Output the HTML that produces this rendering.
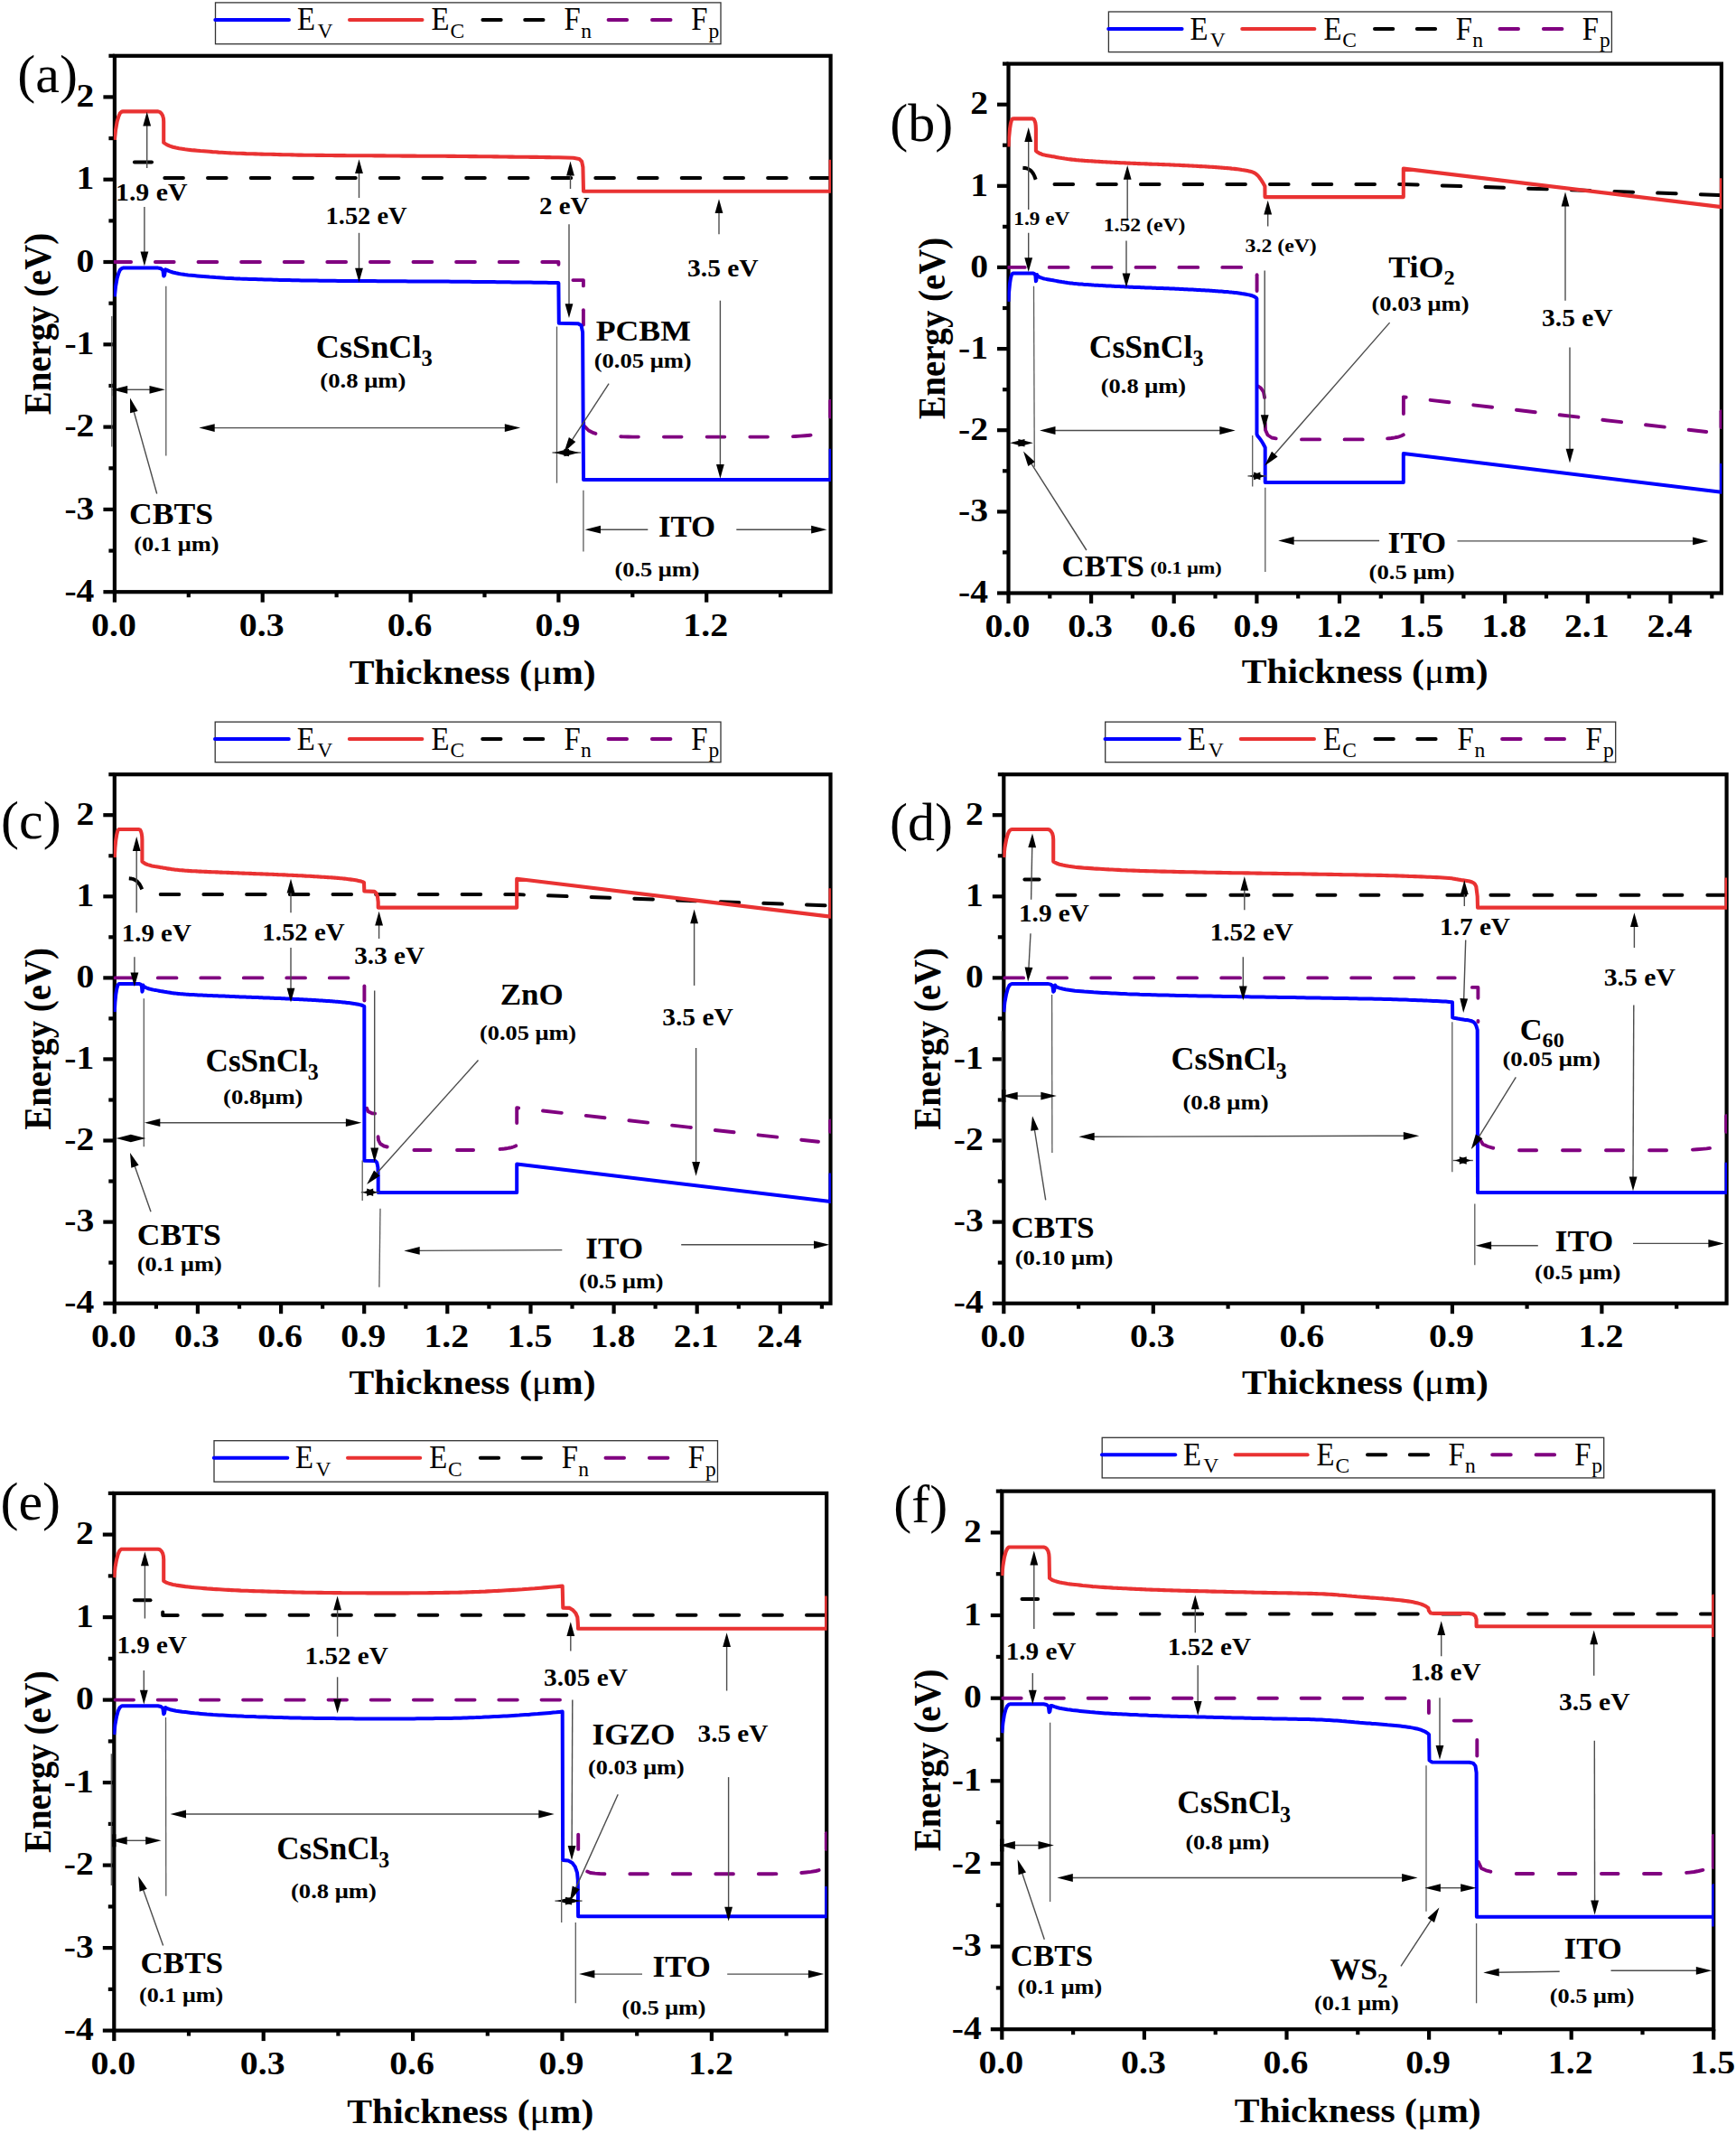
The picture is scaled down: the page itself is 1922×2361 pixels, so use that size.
<!DOCTYPE html>
<html lang="en">
<head>
<meta charset="utf-8">
<title>Energy band diagrams</title>
<style>
html,body{margin:0;padding:0;background:#fff}
svg{display:block}
</style>
</head>
<body>
<svg xmlns="http://www.w3.org/2000/svg" width="1922" height="2361" viewBox="0 0 1922 2361" font-family="'Liberation Serif', 'Times New Roman', serif" fill="#000">
<rect width="1922" height="2361" fill="#fff"/>
<g id="panel-a">
<clipPath id="c1"><rect x="125.9" y="61.8" width="794.1" height="593.4"/></clipPath>
<rect x="126.9" y="61.8" width="792.7" height="593.4" fill="none" stroke="#000" stroke-width="4.2"/>
<line x1="114.4" y1="655.2" x2="126.9" y2="655.2" stroke="#000" stroke-width="4.2"/>
<text x="104.4" y="665.9" font-size="36" font-weight="bold" text-anchor="end" textLength="33" lengthAdjust="spacingAndGlyphs">-4</text>
<line x1="114.4" y1="563.9" x2="126.9" y2="563.9" stroke="#000" stroke-width="4.2"/>
<text x="104.4" y="574.6" font-size="36" font-weight="bold" text-anchor="end" textLength="33" lengthAdjust="spacingAndGlyphs">-3</text>
<line x1="114.4" y1="472.6" x2="126.9" y2="472.6" stroke="#000" stroke-width="4.2"/>
<text x="104.4" y="483.3" font-size="36" font-weight="bold" text-anchor="end" textLength="33" lengthAdjust="spacingAndGlyphs">-2</text>
<line x1="114.4" y1="381.3" x2="126.9" y2="381.3" stroke="#000" stroke-width="4.2"/>
<text x="104.4" y="392" font-size="36" font-weight="bold" text-anchor="end" textLength="33" lengthAdjust="spacingAndGlyphs">-1</text>
<line x1="114.4" y1="290" x2="126.9" y2="290" stroke="#000" stroke-width="4.2"/>
<text x="104.4" y="300.7" font-size="36" font-weight="bold" text-anchor="end" textLength="19.8" lengthAdjust="spacingAndGlyphs">0</text>
<line x1="114.4" y1="198.7" x2="126.9" y2="198.7" stroke="#000" stroke-width="4.2"/>
<text x="104.4" y="209.4" font-size="36" font-weight="bold" text-anchor="end" textLength="19.8" lengthAdjust="spacingAndGlyphs">1</text>
<line x1="114.4" y1="107.4" x2="126.9" y2="107.4" stroke="#000" stroke-width="4.2"/>
<text x="104.4" y="118.1" font-size="36" font-weight="bold" text-anchor="end" textLength="19.8" lengthAdjust="spacingAndGlyphs">2</text>
<line x1="120.4" y1="609.6" x2="126.9" y2="609.6" stroke="#000" stroke-width="4.2"/>
<line x1="120.4" y1="518.3" x2="126.9" y2="518.3" stroke="#000" stroke-width="4.2"/>
<line x1="120.4" y1="427" x2="126.9" y2="427" stroke="#000" stroke-width="4.2"/>
<line x1="120.4" y1="335.7" x2="126.9" y2="335.7" stroke="#000" stroke-width="4.2"/>
<line x1="120.4" y1="244.4" x2="126.9" y2="244.4" stroke="#000" stroke-width="4.2"/>
<line x1="120.4" y1="153.1" x2="126.9" y2="153.1" stroke="#000" stroke-width="4.2"/>
<line x1="120.4" y1="61.8" x2="126.9" y2="61.8" stroke="#000" stroke-width="4.2"/>
<line x1="126.9" y1="655.2" x2="126.9" y2="666.7" stroke="#000" stroke-width="4.2"/>
<text x="125.9" y="704.2" font-size="36" font-weight="bold" text-anchor="middle" textLength="49.8" lengthAdjust="spacingAndGlyphs">0.0</text>
<line x1="290.7" y1="655.2" x2="290.7" y2="666.7" stroke="#000" stroke-width="4.2"/>
<text x="289.7" y="704.2" font-size="36" font-weight="bold" text-anchor="middle" textLength="49.8" lengthAdjust="spacingAndGlyphs">0.3</text>
<line x1="454.6" y1="655.2" x2="454.6" y2="666.7" stroke="#000" stroke-width="4.2"/>
<text x="453.6" y="704.2" font-size="36" font-weight="bold" text-anchor="middle" textLength="49.8" lengthAdjust="spacingAndGlyphs">0.6</text>
<line x1="618.4" y1="655.2" x2="618.4" y2="666.7" stroke="#000" stroke-width="4.2"/>
<text x="617.4" y="704.2" font-size="36" font-weight="bold" text-anchor="middle" textLength="49.8" lengthAdjust="spacingAndGlyphs">0.9</text>
<line x1="782.2" y1="655.2" x2="782.2" y2="666.7" stroke="#000" stroke-width="4.2"/>
<text x="781.2" y="704.2" font-size="36" font-weight="bold" text-anchor="middle" textLength="49.8" lengthAdjust="spacingAndGlyphs">1.2</text>
<line x1="208.8" y1="655.2" x2="208.8" y2="661.2" stroke="#000" stroke-width="4.2"/>
<line x1="372.6" y1="655.2" x2="372.6" y2="661.2" stroke="#000" stroke-width="4.2"/>
<line x1="536.5" y1="655.2" x2="536.5" y2="661.2" stroke="#000" stroke-width="4.2"/>
<line x1="700.3" y1="655.2" x2="700.3" y2="661.2" stroke="#000" stroke-width="4.2"/>
<line x1="864.1" y1="655.2" x2="864.1" y2="661.2" stroke="#000" stroke-width="4.2"/>
<text x="523.2" y="756.8" font-size="37.5" font-weight="bold" text-anchor="middle" textLength="273" lengthAdjust="spacingAndGlyphs">Thickness (<tspan font-weight="normal">μ</tspan>m)</text>
<text transform="translate(56.2 358.5) scale(1.15 1) rotate(-90)" font-size="37.5" font-weight="bold" text-anchor="middle" textLength="201.5" lengthAdjust="spacingAndGlyphs">Energy (eV)</text>
<text x="19.3" y="102" font-size="60">(a)</text>
<rect x="238.5" y="2.9" width="559.5" height="45.8" fill="#fff" stroke="#333" stroke-width="1.3"/>
<line x1="238.3" y1="21.9" x2="320" y2="21.9" stroke="#0000ff" stroke-width="4.0" stroke-linecap="round"/>
<line x1="387" y1="21.9" x2="467.5" y2="21.9" stroke="#e93232" stroke-width="4.0" stroke-linecap="round"/>
<line x1="534.4" y1="21.9" x2="602.2" y2="21.9" stroke="#000" stroke-width="4" stroke-linecap="round" stroke-dasharray="20.3 26.5"/>
<line x1="673.6" y1="21.9" x2="743.1" y2="21.9" stroke="#800080" stroke-width="4" stroke-linecap="round" stroke-dasharray="20.5 27.9"/>
<text x="328.9" y="33.4" font-size="35.5" textLength="20" lengthAdjust="spacingAndGlyphs">E</text>
<text x="351.4" y="41.8" font-size="23.5">V</text>
<text x="477.5" y="33.4" font-size="35.5" textLength="20" lengthAdjust="spacingAndGlyphs">E</text>
<text x="498.5" y="41.8" font-size="23.5">C</text>
<text x="624.6" y="33.4" font-size="35.5" textLength="18.2" lengthAdjust="spacingAndGlyphs">F</text>
<text x="643.2" y="41.8" font-size="23.5">n</text>
<text x="765.2" y="33.4" font-size="35.5" textLength="18.2" lengthAdjust="spacingAndGlyphs">F</text>
<text x="784.4" y="41.8" font-size="23.5">p</text>
<g clip-path="url(#c1)">
<path d="M148.9 179.4 L168 179.4" fill="none" stroke="#000" stroke-width="4.0" stroke-linejoin="round" stroke-linecap="round"/>
<path d="M182.3 196.9 L919.6 196.9" fill="none" stroke="#000" stroke-width="4.0" stroke-linejoin="round" stroke-linecap="round" stroke-dasharray="20.6 27.1" stroke-dashoffset="0"/>
<path d="M126.9 290 L618.4 290 L618.4 295.5" fill="none" stroke="#800080" stroke-width="3.9" stroke-linejoin="round" stroke-linecap="round" stroke-dasharray="20.8 26.8" stroke-dashoffset="2.6"/>
<path d="M634.4 310.1 L645.9 310.1 L645.9 316.4" fill="none" stroke="#800080" stroke-width="3.9" stroke-linejoin="round" stroke-linecap="round"/>
<path d="M645.9 343.2 L645.9 359.6" fill="none" stroke="#800080" stroke-width="3.9" stroke-linejoin="round" stroke-linecap="round"/>
<path d="M646.2 467.6 L646.2 470.8 L651.7 476.5 L657.1 479.2 L662.6 480.9 L668 481.8 L673.5 482.3 L678.9 482.7 L684.4 483.1 L689.8 483.4 L695.3 483.5 L700.7 483.6 L706.2 483.6 L711.6 483.6 L717.1 483.6 L722.5 483.6 L728 483.6 L733.4 483.6 L738.9 483.6 L744.3 483.6 L749.8 483.6 L755.2 483.6 L760.7 483.6 L766.1 483.6 L771.6 483.6 L777 483.6 L782.5 483.6 L787.9 483.6 L793.4 483.6 L798.8 483.6 L804.3 483.6 L809.7 483.6 L815.2 483.6 L820.6 483.6 L826.1 483.6 L831.5 483.6 L837 483.6 L842.4 483.6 L847.9 483.6 L853.3 483.6 L858.8 483.6 L864.2 483.6 L869.7 483.5 L875.1 483.3 L880.6 483 L886 482.6 L891.5 482.2 L896.9 481.7 L902.4 481.1 L907.8 480.1 L913.3 479" fill="none" stroke="#800080" stroke-width="3.9" stroke-linejoin="round" stroke-linecap="round" stroke-dasharray="19.6 28.1" stroke-dashoffset="0"/>
<path d="M919.2 443.8 L919.2 461.6" fill="none" stroke="#800080" stroke-width="3.9" stroke-linejoin="round" stroke-linecap="round"/>
<path d="M126.9 154.9 L128 144 L129.6 134.8 L131.3 128.9 L132.9 125.2 L134.8 123.6 L136.2 123.4 L175 123.4 L177.1 124.1 L178.8 125.7 L180.1 128 L181 131.2 L181.2 134.8 L181.2 157.9 L184.6 160.1 L188 161.6 L191.4 162.7 L194.8 163.6 L198.2 164.3 L201.6 164.8 L204.9 165.3 L208.3 165.7 L211.7 166.1 L215.1 166.4 L218.5 166.7 L221.9 167 L225.3 167.2 L228.7 167.5 L232 167.8 L235.4 168.1 L238.8 168.3 L242.2 168.6 L245.6 168.8 L249 169 L252.4 169.2 L255.7 169.4 L259.1 169.5 L262.5 169.7 L265.9 169.8 L269.3 169.9 L272.7 170.1 L276.1 170.2 L279.5 170.3 L282.8 170.4 L286.2 170.5 L289.6 170.6 L293 170.7 L296.4 170.8 L299.8 170.8 L303.2 170.9 L306.5 171 L309.9 171.1 L313.3 171.2 L316.7 171.3 L320.1 171.3 L323.5 171.4 L326.9 171.5 L330.3 171.6 L333.6 171.6 L337 171.7 L340.4 171.7 L343.8 171.8 L347.2 171.8 L350.6 171.9 L354 171.9 L357.3 171.9 L360.7 172 L364.1 172 L367.5 172 L370.9 172.1 L374.3 172.1 L377.7 172.1 L381.1 172.1 L384.4 172.2 L387.8 172.2 L391.2 172.2 L394.6 172.2 L398 172.3 L401.4 172.3 L404.8 172.3 L408.1 172.3 L411.5 172.3 L414.9 172.4 L418.3 172.4 L421.7 172.4 L425.1 172.4 L428.5 172.5 L431.9 172.5 L435.2 172.5 L438.6 172.5 L442 172.5 L445.4 172.6 L448.8 172.6 L452.2 172.6 L455.6 172.6 L458.9 172.6 L462.3 172.7 L465.7 172.7 L469.1 172.7 L472.5 172.7 L475.9 172.7 L479.3 172.8 L482.7 172.8 L486 172.8 L489.4 172.8 L492.8 172.8 L496.2 172.9 L499.6 172.9 L503 172.9 L506.4 173 L509.7 173 L513.1 173 L516.5 173 L519.9 173.1 L523.3 173.1 L526.7 173.1 L530.1 173.2 L533.5 173.2 L536.8 173.3 L540.2 173.3 L543.6 173.3 L547 173.4 L550.4 173.4 L553.8 173.5 L557.2 173.5 L560.5 173.5 L563.9 173.6 L567.3 173.6 L570.7 173.7 L574.1 173.7 L577.5 173.7 L580.9 173.8 L584.3 173.8 L587.6 173.9 L591 173.9 L594.4 173.9 L597.8 174 L601.2 174 L604.6 174.1 L608 174.1 L611.3 174.2 L614.7 174.2 L618.1 174.3 L634.8 174.8 L641.3 175.9 L644.1 178.7 L645.4 185 L646 211.8 L919.6 211.8 L919.6 176.8" fill="none" stroke="#e93232" stroke-width="4.1" stroke-linejoin="round" stroke-linecap="butt"/>
<path d="M126.9 328.4 L128 317.4 L129.6 308.3 L131.3 302.4 L132.9 298.7 L134.8 297.1 L136.2 296.6 L175 296.6 L178.2 297.3 L180.4 299.2 L181.2 305.6 L182.1 304.6 L183.1 298.2 L184.6 298.9 L188 300.4 L191.4 301.5 L194.8 302.3 L198.2 303 L201.6 303.6 L204.9 304.1 L208.3 304.5 L211.7 304.8 L215.1 305.1 L218.5 305.4 L221.9 305.7 L225.3 306 L228.7 306.3 L232 306.6 L235.4 306.8 L238.8 307.1 L242.2 307.3 L245.6 307.5 L249 307.8 L252.4 308 L255.7 308.1 L259.1 308.3 L262.5 308.4 L265.9 308.6 L269.3 308.7 L272.7 308.8 L276.1 308.9 L279.5 309 L282.8 309.1 L286.2 309.2 L289.6 309.3 L293 309.4 L296.4 309.5 L299.8 309.6 L303.2 309.7 L306.5 309.8 L309.9 309.9 L313.3 310 L316.7 310 L320.1 310.1 L323.5 310.2 L326.9 310.3 L330.3 310.3 L333.6 310.4 L337 310.5 L340.4 310.5 L343.8 310.6 L347.2 310.6 L350.6 310.6 L354 310.7 L357.3 310.7 L360.7 310.7 L364.1 310.8 L367.5 310.8 L370.9 310.8 L374.3 310.9 L377.7 310.9 L381.1 310.9 L384.4 310.9 L387.8 311 L391.2 311 L394.6 311 L398 311 L401.4 311 L404.8 311.1 L408.1 311.1 L411.5 311.1 L414.9 311.1 L418.3 311.2 L421.7 311.2 L425.1 311.2 L428.5 311.2 L431.9 311.2 L435.2 311.3 L438.6 311.3 L442 311.3 L445.4 311.3 L448.8 311.3 L452.2 311.4 L455.6 311.4 L458.9 311.4 L462.3 311.4 L465.7 311.4 L469.1 311.5 L472.5 311.5 L475.9 311.5 L479.3 311.5 L482.7 311.5 L486 311.6 L489.4 311.6 L492.8 311.6 L496.2 311.6 L499.6 311.7 L503 311.7 L506.4 311.7 L509.7 311.8 L513.1 311.8 L516.5 311.8 L519.9 311.8 L523.3 311.9 L526.7 311.9 L530.1 311.9 L533.5 312 L536.8 312 L540.2 312.1 L543.6 312.1 L547 312.1 L550.4 312.2 L553.8 312.2 L557.2 312.3 L560.5 312.3 L563.9 312.3 L567.3 312.4 L570.7 312.4 L574.1 312.5 L577.5 312.5 L580.9 312.5 L584.3 312.6 L587.6 312.6 L591 312.7 L594.4 312.7 L597.8 312.8 L601.2 312.8 L604.6 312.8 L608 312.9 L611.3 312.9 L614.7 313 L618.1 313 L618.4 313.3 L618.8 357.8 L640.2 358.2 L643.5 360.3 L645.1 367.6 L646 531 L919.6 531 L919.6 496.8" fill="none" stroke="#0000ff" stroke-width="4.0" stroke-linejoin="round" stroke-linecap="butt"/>
</g>
<line x1="162.7" y1="186" x2="162.7" y2="136.4" stroke="#4c4c4c" stroke-width="1.4"/>
<polygon points="162.7,123.8 167.1,139.6 158.3,139.6" fill="#000"/>
<text x="128" y="221.8" font-size="28" font-weight="bold" textLength="79.5" lengthAdjust="spacingAndGlyphs">1.9 eV</text>
<line x1="159.9" y1="229" x2="159.9" y2="281.8" stroke="#4c4c4c" stroke-width="1.4"/>
<polygon points="159.9,294.4 155.5,278.6 164.3,278.6" fill="#000"/>
<line x1="397.5" y1="219" x2="397.5" y2="188.9" stroke="#4c4c4c" stroke-width="1.4"/>
<polygon points="397.5,176.3 401.9,192.1 393.1,192.1" fill="#000"/>
<text x="360.6" y="247.7" font-size="28" font-weight="bold" textLength="90" lengthAdjust="spacingAndGlyphs">1.52 eV</text>
<line x1="397.5" y1="257.8" x2="397.5" y2="299.9" stroke="#4c4c4c" stroke-width="1.4"/>
<polygon points="397.5,312.5 393.1,296.7 401.9,296.7" fill="#000"/>
<line x1="183.8" y1="316.8" x2="183.8" y2="504.4" stroke="#5a5a5a" stroke-width="1.3"/>
<line x1="123.8" y1="350" x2="123.8" y2="494.6" stroke="#5a5a5a" stroke-width="1.3"/>
<text x="349.8" y="395.8" font-size="36" font-weight="bold" textLength="129" lengthAdjust="spacingAndGlyphs">CsSnCl<tspan font-size="24.5" dy="9.4">3</tspan></text>
<text x="354.3" y="429" font-size="22.5" font-weight="bold" textLength="95.2" lengthAdjust="spacingAndGlyphs">(0.8 μm)</text>
<line x1="137.7" y1="431.3" x2="169" y2="431.3" stroke="#4c4c4c" stroke-width="1.4"/>
<polygon points="182.9,431.3 165.5,435.7 165.5,426.9" fill="#000"/>
<polygon points="123.8,431.3 141.2,426.9 141.2,435.7" fill="#000"/>
<line x1="173.7" y1="546.5" x2="147.5" y2="453" stroke="#4c4c4c" stroke-width="1.4"/>
<polygon points="144,440.5 152.6,454.9 144.1,457.3" fill="#000"/>
<text x="143" y="580.2" font-size="33" font-weight="bold" textLength="93" lengthAdjust="spacingAndGlyphs">CBTS</text>
<text x="148.3" y="610.4" font-size="22.5" font-weight="bold" textLength="94.2" lengthAdjust="spacingAndGlyphs">(0.1 μm)</text>
<line x1="234.2" y1="473.6" x2="562.3" y2="473.6" stroke="#4c4c4c" stroke-width="1.4"/>
<polygon points="576.2,473.6 558.8,478 558.8,469.2" fill="#000"/>
<polygon points="220.3,473.6 237.7,469.2 237.7,478" fill="#000"/>
<line x1="616.5" y1="361.5" x2="616.5" y2="534.7" stroke="#5a5a5a" stroke-width="1.3"/>
<line x1="631.5" y1="209" x2="631.5" y2="191.2" stroke="#4c4c4c" stroke-width="1.4"/>
<polygon points="631.5,178.6 635.9,194.4 627.1,194.4" fill="#000"/>
<text x="597" y="236.8" font-size="27.5" font-weight="bold" textLength="55.5" lengthAdjust="spacingAndGlyphs">2 eV</text>
<line x1="630" y1="248.3" x2="630" y2="339.4" stroke="#4c4c4c" stroke-width="1.4"/>
<polygon points="630,352 625.6,336.2 634.4,336.2" fill="#000"/>
<line x1="796" y1="259.2" x2="796" y2="232.9" stroke="#4c4c4c" stroke-width="1.4"/>
<polygon points="796,220.3 800.4,236.1 791.6,236.1" fill="#000"/>
<text x="761" y="305.9" font-size="27.5" font-weight="bold" textLength="78.7" lengthAdjust="spacingAndGlyphs">3.5 eV</text>
<line x1="797.4" y1="332.7" x2="797.4" y2="517.2" stroke="#4c4c4c" stroke-width="1.4"/>
<polygon points="797.4,529.8 793,514 801.8,514" fill="#000"/>
<text x="659.7" y="377.4" font-size="32" font-weight="bold" textLength="105.2" lengthAdjust="spacingAndGlyphs">PCBM</text>
<text x="657.7" y="406.7" font-size="22.5" font-weight="bold" textLength="108" lengthAdjust="spacingAndGlyphs">(0.05 μm)</text>
<line x1="674.1" y1="424.6" x2="631.8" y2="489.3" stroke="#4c4c4c" stroke-width="1.4"/>
<polygon points="624.5,500.5 629.9,484.1 637.3,488.9" fill="#000"/>
<line x1="611.5" y1="501" x2="643" y2="501" stroke="#4c4c4c" stroke-width="1.4"/>
<polygon points="613.5,501 630,496.7 630,505.3" fill="#000"/>
<polygon points="641,501 624.5,505.3 624.5,496.7" fill="#000"/>
<line x1="645.9" y1="542.7" x2="645.9" y2="610.4" stroke="#5a5a5a" stroke-width="1.3"/>
<line x1="717.3" y1="586.2" x2="661.5" y2="586.2" stroke="#4c4c4c" stroke-width="1.4"/>
<polygon points="647.6,586.2 665,581.8 665,590.6" fill="#000"/>
<line x1="815.3" y1="586.2" x2="901.6" y2="586.2" stroke="#4c4c4c" stroke-width="1.4"/>
<polygon points="915.5,586.2 898.1,590.6 898.1,581.8" fill="#000"/>
<text x="728.9" y="593.7" font-size="33.5" font-weight="bold" textLength="63.3" lengthAdjust="spacingAndGlyphs">ITO</text>
<text x="680.5" y="638.4" font-size="22.5" font-weight="bold" textLength="94" lengthAdjust="spacingAndGlyphs">(0.5 μm)</text>
<line x1="126.9" y1="424.3" x2="126.9" y2="438.3" stroke="#000" stroke-width="4.2"/>
</g>
<g id="panel-b">
<clipPath id="c2"><rect x="1115.5" y="70.6" width="790.8" height="585.9"/></clipPath>
<rect x="1116.5" y="70.6" width="789.4" height="585.9" fill="none" stroke="#000" stroke-width="4.2"/>
<line x1="1104" y1="656.5" x2="1116.5" y2="656.5" stroke="#000" stroke-width="4.2"/>
<text x="1094" y="667.2" font-size="36" font-weight="bold" text-anchor="end" textLength="33" lengthAdjust="spacingAndGlyphs">-4</text>
<line x1="1104" y1="566.4" x2="1116.5" y2="566.4" stroke="#000" stroke-width="4.2"/>
<text x="1094" y="577.1" font-size="36" font-weight="bold" text-anchor="end" textLength="33" lengthAdjust="spacingAndGlyphs">-3</text>
<line x1="1104" y1="476.2" x2="1116.5" y2="476.2" stroke="#000" stroke-width="4.2"/>
<text x="1094" y="486.9" font-size="36" font-weight="bold" text-anchor="end" textLength="33" lengthAdjust="spacingAndGlyphs">-2</text>
<line x1="1104" y1="386.1" x2="1116.5" y2="386.1" stroke="#000" stroke-width="4.2"/>
<text x="1094" y="396.8" font-size="36" font-weight="bold" text-anchor="end" textLength="33" lengthAdjust="spacingAndGlyphs">-1</text>
<line x1="1104" y1="295.9" x2="1116.5" y2="295.9" stroke="#000" stroke-width="4.2"/>
<text x="1094" y="306.6" font-size="36" font-weight="bold" text-anchor="end" textLength="19.8" lengthAdjust="spacingAndGlyphs">0</text>
<line x1="1104" y1="205.8" x2="1116.5" y2="205.8" stroke="#000" stroke-width="4.2"/>
<text x="1094" y="216.5" font-size="36" font-weight="bold" text-anchor="end" textLength="19.8" lengthAdjust="spacingAndGlyphs">1</text>
<line x1="1104" y1="115.7" x2="1116.5" y2="115.7" stroke="#000" stroke-width="4.2"/>
<text x="1094" y="126.4" font-size="36" font-weight="bold" text-anchor="end" textLength="19.8" lengthAdjust="spacingAndGlyphs">2</text>
<line x1="1110" y1="611.4" x2="1116.5" y2="611.4" stroke="#000" stroke-width="4.2"/>
<line x1="1110" y1="521.3" x2="1116.5" y2="521.3" stroke="#000" stroke-width="4.2"/>
<line x1="1110" y1="431.2" x2="1116.5" y2="431.2" stroke="#000" stroke-width="4.2"/>
<line x1="1110" y1="341" x2="1116.5" y2="341" stroke="#000" stroke-width="4.2"/>
<line x1="1110" y1="250.9" x2="1116.5" y2="250.9" stroke="#000" stroke-width="4.2"/>
<line x1="1110" y1="160.7" x2="1116.5" y2="160.7" stroke="#000" stroke-width="4.2"/>
<line x1="1110" y1="70.6" x2="1116.5" y2="70.6" stroke="#000" stroke-width="4.2"/>
<line x1="1116.5" y1="656.5" x2="1116.5" y2="668" stroke="#000" stroke-width="4.2"/>
<text x="1115.5" y="705" font-size="36" font-weight="bold" text-anchor="middle" textLength="49.8" lengthAdjust="spacingAndGlyphs">0.0</text>
<line x1="1208.1" y1="656.5" x2="1208.1" y2="668" stroke="#000" stroke-width="4.2"/>
<text x="1207.1" y="705" font-size="36" font-weight="bold" text-anchor="middle" textLength="49.8" lengthAdjust="spacingAndGlyphs">0.3</text>
<line x1="1299.7" y1="656.5" x2="1299.7" y2="668" stroke="#000" stroke-width="4.2"/>
<text x="1298.7" y="705" font-size="36" font-weight="bold" text-anchor="middle" textLength="49.8" lengthAdjust="spacingAndGlyphs">0.6</text>
<line x1="1391.4" y1="656.5" x2="1391.4" y2="668" stroke="#000" stroke-width="4.2"/>
<text x="1390.4" y="705" font-size="36" font-weight="bold" text-anchor="middle" textLength="49.8" lengthAdjust="spacingAndGlyphs">0.9</text>
<line x1="1483" y1="656.5" x2="1483" y2="668" stroke="#000" stroke-width="4.2"/>
<text x="1482" y="705" font-size="36" font-weight="bold" text-anchor="middle" textLength="49.8" lengthAdjust="spacingAndGlyphs">1.2</text>
<line x1="1574.6" y1="656.5" x2="1574.6" y2="668" stroke="#000" stroke-width="4.2"/>
<text x="1573.6" y="705" font-size="36" font-weight="bold" text-anchor="middle" textLength="49.8" lengthAdjust="spacingAndGlyphs">1.5</text>
<line x1="1666.2" y1="656.5" x2="1666.2" y2="668" stroke="#000" stroke-width="4.2"/>
<text x="1665.2" y="705" font-size="36" font-weight="bold" text-anchor="middle" textLength="49.8" lengthAdjust="spacingAndGlyphs">1.8</text>
<line x1="1757.8" y1="656.5" x2="1757.8" y2="668" stroke="#000" stroke-width="4.2"/>
<text x="1756.8" y="705" font-size="36" font-weight="bold" text-anchor="middle" textLength="49.8" lengthAdjust="spacingAndGlyphs">2.1</text>
<line x1="1849.5" y1="656.5" x2="1849.5" y2="668" stroke="#000" stroke-width="4.2"/>
<text x="1848.5" y="705" font-size="36" font-weight="bold" text-anchor="middle" textLength="49.8" lengthAdjust="spacingAndGlyphs">2.4</text>
<line x1="1162.3" y1="656.5" x2="1162.3" y2="662.5" stroke="#000" stroke-width="4.2"/>
<line x1="1253.9" y1="656.5" x2="1253.9" y2="662.5" stroke="#000" stroke-width="4.2"/>
<line x1="1345.5" y1="656.5" x2="1345.5" y2="662.5" stroke="#000" stroke-width="4.2"/>
<line x1="1437.2" y1="656.5" x2="1437.2" y2="662.5" stroke="#000" stroke-width="4.2"/>
<line x1="1528.8" y1="656.5" x2="1528.8" y2="662.5" stroke="#000" stroke-width="4.2"/>
<line x1="1620.4" y1="656.5" x2="1620.4" y2="662.5" stroke="#000" stroke-width="4.2"/>
<line x1="1712" y1="656.5" x2="1712" y2="662.5" stroke="#000" stroke-width="4.2"/>
<line x1="1803.7" y1="656.5" x2="1803.7" y2="662.5" stroke="#000" stroke-width="4.2"/>
<line x1="1895.3" y1="656.5" x2="1895.3" y2="662.5" stroke="#000" stroke-width="4.2"/>
<text x="1511.2" y="756" font-size="37.5" font-weight="bold" text-anchor="middle" textLength="273" lengthAdjust="spacingAndGlyphs">Thickness (<tspan font-weight="normal">μ</tspan>m)</text>
<text transform="translate(1046 363.6) scale(1.15 1) rotate(-90)" font-size="37.5" font-weight="bold" text-anchor="middle" textLength="201.5" lengthAdjust="spacingAndGlyphs">Energy (eV)</text>
<text x="985.2" y="155.5" font-size="60">(b)</text>
<rect x="1227.4" y="13" width="557" height="44.6" fill="#fff" stroke="#333" stroke-width="1.3"/>
<line x1="1227.2" y1="32" x2="1308.6" y2="32" stroke="#0000ff" stroke-width="4.0" stroke-linecap="round"/>
<line x1="1375.2" y1="32" x2="1455.4" y2="32" stroke="#e93232" stroke-width="4.0" stroke-linecap="round"/>
<line x1="1522" y1="32" x2="1589.5" y2="32" stroke="#000" stroke-width="4" stroke-linecap="round" stroke-dasharray="20.3 26.5"/>
<line x1="1660.5" y1="32" x2="1729.8" y2="32" stroke="#800080" stroke-width="4" stroke-linecap="round" stroke-dasharray="20.5 27.9"/>
<text x="1317.4" y="43.5" font-size="35.5" textLength="20" lengthAdjust="spacingAndGlyphs">E</text>
<text x="1339.8" y="51.9" font-size="23.5">V</text>
<text x="1465.4" y="43.5" font-size="35.5" textLength="20" lengthAdjust="spacingAndGlyphs">E</text>
<text x="1486.3" y="51.9" font-size="23.5">C</text>
<text x="1611.8" y="43.5" font-size="35.5" textLength="18.2" lengthAdjust="spacingAndGlyphs">F</text>
<text x="1630.3" y="51.9" font-size="23.5">n</text>
<text x="1751.8" y="43.5" font-size="35.5" textLength="18.2" lengthAdjust="spacingAndGlyphs">F</text>
<text x="1770.9" y="51.9" font-size="23.5">p</text>
<g clip-path="url(#c2)">
<path d="M1132.4 185.8 L1133.7 185.9 L1135 186.1 L1136.3 186.3 L1137.6 186.7 L1138.9 187.3 L1140.2 188.2 L1141.5 189.2 L1142.8 190.6 L1144.1 192.5 L1145.4 195.2 L1146.7 198.7" fill="none" stroke="#000" stroke-width="4.0" stroke-linejoin="round" stroke-linecap="butt"/>
<path d="M1167.5 203.9 L1553.8 203.9 L1905.9 216" fill="none" stroke="#000" stroke-width="4.0" stroke-linejoin="round" stroke-linecap="round" stroke-dasharray="20.6 27.1" stroke-dashoffset="0"/>
<path d="M1116.5 295.9 L1391.4 295.9" fill="none" stroke="#800080" stroke-width="3.9" stroke-linejoin="round" stroke-linecap="round" stroke-dasharray="20.9 27" stroke-dashoffset="2.7"/>
<path d="M1391.6 304.3 L1391.6 322.1" fill="none" stroke="#800080" stroke-width="3.9" stroke-linejoin="round" stroke-linecap="round"/>
<path d="M1393 427.5 L1396 429.5 L1399 434 L1400.1 440.1" fill="none" stroke="#800080" stroke-width="3.9" stroke-linejoin="round" stroke-linecap="round"/>
<path d="M1400.7 468.3 L1401 476 L1403.5 481.5 L1408 484.5 L1412.7 485.3" fill="none" stroke="#800080" stroke-width="3.9" stroke-linejoin="round" stroke-linecap="round"/>
<path d="M1441 486.4 L1441 486.4 L1443 486.4 L1444.9 486.4 L1446.9 486.4 L1448.8 486.4 L1450.8 486.4 L1452.7 486.4 L1454.7 486.4 L1456.6 486.4 L1458.5 486.4 L1460.5 486.4 L1462.4 486.4 L1464.4 486.4 L1466.3 486.4 L1468.3 486.4 L1470.2 486.4 L1472.2 486.4 L1474.1 486.4 L1476 486.4 L1478 486.4 L1479.9 486.4 L1481.9 486.4 L1483.8 486.4 L1485.8 486.4 L1487.7 486.4 L1489.7 486.4 L1491.6 486.4 L1493.5 486.4 L1495.5 486.4 L1497.4 486.4 L1499.4 486.4 L1501.3 486.4 L1503.3 486.4 L1505.2 486.4 L1507.2 486.4 L1509.1 486.4 L1511.1 486.4 L1513 486.4 L1514.9 486.4 L1516.9 486.4 L1518.8 486.3 L1520.8 486.3 L1522.7 486.2 L1524.7 486.1 L1526.6 486 L1528.6 485.9 L1530.5 485.8 L1532.4 485.7 L1534.4 485.5 L1536.3 485.4 L1538.3 485.2 L1540.2 485 L1542.2 484.7 L1544.1 484.4 L1546.1 484 L1548 483.6 L1549.9 483 L1551.9 482.2 L1553.8 481.3" fill="none" stroke="#800080" stroke-width="3.9" stroke-linejoin="round" stroke-linecap="round" stroke-dasharray="20.1 27.5" stroke-dashoffset="0"/>
<path d="M1553.9 440.9 L1553.9 458.1" fill="none" stroke="#800080" stroke-width="3.9" stroke-linejoin="round" stroke-linecap="round"/>
<path d="M1553.8 439.4 L1889.2 478" fill="none" stroke="#800080" stroke-width="3.9" stroke-linejoin="round" stroke-linecap="round" stroke-dasharray="20.9 27.1" stroke-dashoffset="18"/>
<path d="M1905.5 455.3 L1905.5 473.1" fill="none" stroke="#800080" stroke-width="3.9" stroke-linejoin="round" stroke-linecap="round"/>
<path d="M1116.5 162.5 L1117.1 151.7 L1118 142.7 L1118.9 136.9 L1119.9 133.2 L1120.9 131.6 L1121.7 131.4 L1143.4 131.4 L1144.6 132.1 L1145.5 133.7 L1146.3 136 L1146.7 139.1 L1146.9 142.7 L1146.9 167 L1148.5 168.3 L1150.1 169.3 L1151.7 170 L1153.3 170.7 L1154.9 171.2 L1156.5 171.6 L1158 171.9 L1159.6 172.2 L1161.2 172.5 L1162.8 172.8 L1164.4 173.1 L1166 173.3 L1167.6 173.6 L1169.2 173.9 L1170.8 174.2 L1172.4 174.5 L1174 174.7 L1175.6 175 L1177.2 175.2 L1178.8 175.5 L1180.4 175.7 L1182 176 L1183.6 176.2 L1185.1 176.4 L1186.7 176.6 L1188.3 176.8 L1189.9 176.9 L1191.5 177.1 L1193.1 177.2 L1194.7 177.4 L1196.3 177.5 L1197.9 177.6 L1199.5 177.7 L1201.1 177.9 L1202.7 178 L1204.3 178.1 L1205.9 178.2 L1207.5 178.3 L1209.1 178.4 L1210.7 178.5 L1212.3 178.6 L1213.8 178.7 L1215.4 178.8 L1217 178.9 L1218.6 179 L1220.2 179.1 L1221.8 179.2 L1223.4 179.3 L1225 179.4 L1226.6 179.5 L1228.2 179.5 L1229.8 179.6 L1231.4 179.7 L1233 179.8 L1234.6 179.9 L1236.2 179.9 L1237.8 180 L1239.4 180.1 L1240.9 180.2 L1242.5 180.3 L1244.1 180.3 L1245.7 180.4 L1247.3 180.5 L1248.9 180.6 L1250.5 180.6 L1252.1 180.7 L1253.7 180.8 L1255.3 180.9 L1256.9 180.9 L1258.5 181 L1260.1 181.1 L1261.7 181.1 L1263.3 181.2 L1264.9 181.3 L1266.5 181.3 L1268 181.4 L1269.6 181.4 L1271.2 181.5 L1272.8 181.6 L1274.4 181.6 L1276 181.7 L1277.6 181.7 L1279.2 181.8 L1280.8 181.8 L1282.4 181.9 L1284 182 L1285.6 182 L1287.2 182.1 L1288.8 182.1 L1290.4 182.2 L1292 182.3 L1293.6 182.3 L1295.2 182.4 L1296.7 182.5 L1298.3 182.5 L1299.9 182.6 L1301.5 182.7 L1303.1 182.8 L1304.7 182.8 L1306.3 182.9 L1307.9 183 L1309.5 183.1 L1311.1 183.1 L1312.7 183.2 L1314.3 183.3 L1315.9 183.4 L1317.5 183.5 L1319.1 183.5 L1320.7 183.6 L1322.3 183.7 L1323.8 183.8 L1325.4 183.9 L1327 184 L1328.6 184.1 L1330.2 184.1 L1331.8 184.2 L1333.4 184.3 L1335 184.4 L1336.6 184.5 L1338.2 184.6 L1339.8 184.7 L1341.4 184.8 L1343 184.9 L1344.6 185 L1346.2 185.1 L1347.8 185.3 L1349.4 185.4 L1350.9 185.5 L1352.5 185.6 L1354.1 185.7 L1355.7 185.9 L1357.3 186 L1358.9 186.1 L1360.5 186.3 L1362.1 186.4 L1363.7 186.6 L1365.3 186.7 L1366.9 186.9 L1368.5 187.1 L1370.1 187.3 L1371.7 187.5 L1373.3 187.7 L1374.9 188 L1376.5 188.2 L1378.1 188.5 L1379.6 188.8 L1381.2 189.1 L1382.8 189.4 L1384.4 189.8 L1386 190.2 L1387.6 190.8 L1389.2 191.6 L1390.8 192.7 L1392.4 194.2 L1394 196 L1395.6 198.2 L1397.2 200.6 L1398.8 203.3 L1400.4 206.3 L1400.5 218.1 L1553.8 218.1 L1553.8 186.6 L1905.9 229.1 L1905.9 197.3" fill="none" stroke="#e93232" stroke-width="4.1" stroke-linejoin="round" stroke-linecap="butt"/>
<path d="M1116.5 333.8 L1117.1 323 L1118 314 L1118.9 308.1 L1119.9 304.5 L1120.9 302.9 L1121.7 302.4 L1143.4 302.4 L1145.2 303.2 L1146.4 305 L1146.9 311.3 L1147.3 310.4 L1148 304.1 L1148.5 305.3 L1150.1 306.3 L1151.7 307.1 L1153.3 307.7 L1154.9 308.2 L1156.5 308.6 L1158 308.9 L1159.6 309.2 L1161.2 309.5 L1162.8 309.8 L1164.4 310.1 L1166 310.3 L1167.6 310.6 L1169.2 310.9 L1170.8 311.2 L1172.4 311.5 L1174 311.7 L1175.6 312 L1177.2 312.2 L1178.8 312.5 L1180.4 312.7 L1182 313 L1183.6 313.2 L1185.1 313.4 L1186.7 313.6 L1188.3 313.8 L1189.9 313.9 L1191.5 314.1 L1193.1 314.2 L1194.7 314.4 L1196.3 314.5 L1197.9 314.6 L1199.5 314.8 L1201.1 314.9 L1202.7 315 L1204.3 315.1 L1205.9 315.2 L1207.5 315.3 L1209.1 315.4 L1210.7 315.6 L1212.3 315.7 L1213.8 315.8 L1215.4 315.8 L1217 315.9 L1218.6 316 L1220.2 316.1 L1221.8 316.2 L1223.4 316.3 L1225 316.4 L1226.6 316.5 L1228.2 316.6 L1229.8 316.6 L1231.4 316.7 L1233 316.8 L1234.6 316.9 L1236.2 317 L1237.8 317 L1239.4 317.1 L1240.9 317.2 L1242.5 317.3 L1244.1 317.3 L1245.7 317.4 L1247.3 317.5 L1248.9 317.6 L1250.5 317.7 L1252.1 317.7 L1253.7 317.8 L1255.3 317.9 L1256.9 317.9 L1258.5 318 L1260.1 318.1 L1261.7 318.1 L1263.3 318.2 L1264.9 318.3 L1266.5 318.3 L1268 318.4 L1269.6 318.4 L1271.2 318.5 L1272.8 318.6 L1274.4 318.6 L1276 318.7 L1277.6 318.7 L1279.2 318.8 L1280.8 318.9 L1282.4 318.9 L1284 319 L1285.6 319 L1287.2 319.1 L1288.8 319.2 L1290.4 319.2 L1292 319.3 L1293.6 319.3 L1295.2 319.4 L1296.7 319.5 L1298.3 319.5 L1299.9 319.6 L1301.5 319.7 L1303.1 319.8 L1304.7 319.8 L1306.3 319.9 L1307.9 320 L1309.5 320.1 L1311.1 320.2 L1312.7 320.2 L1314.3 320.3 L1315.9 320.4 L1317.5 320.5 L1319.1 320.6 L1320.7 320.6 L1322.3 320.7 L1323.8 320.8 L1325.4 320.9 L1327 321 L1328.6 321.1 L1330.2 321.2 L1331.8 321.2 L1333.4 321.3 L1335 321.4 L1336.6 321.5 L1338.2 321.6 L1339.8 321.7 L1341.4 321.8 L1343 321.9 L1344.6 322 L1346.2 322.2 L1347.8 322.3 L1349.4 322.4 L1350.9 322.5 L1352.5 322.6 L1354.1 322.7 L1355.7 322.9 L1357.3 323 L1358.9 323.1 L1360.5 323.3 L1362.1 323.4 L1363.7 323.6 L1365.3 323.7 L1366.9 323.9 L1368.5 324.1 L1370.1 324.3 L1371.7 324.5 L1373.3 324.7 L1374.9 325 L1376.5 325.2 L1378.1 325.5 L1379.6 325.8 L1381.2 326.1 L1382.8 326.4 L1384.4 326.8 L1386 327.2 L1387.6 327.8 L1389.2 328.6 L1390.8 329.7 L1391.4 330.6 L1391.5 480.7 L1392.4 482.6 L1394 484.5 L1395.6 486.6 L1397.2 489 L1398.8 491.7 L1400.4 494.7 L1400.7 495.2 L1400.7 534 L1553.8 534 L1553.8 502 L1905.9 544.7 L1905.9 513" fill="none" stroke="#0000ff" stroke-width="4.0" stroke-linejoin="round" stroke-linecap="butt"/>
</g>
<line x1="1138.7" y1="232" x2="1138.7" y2="153.7" stroke="#4c4c4c" stroke-width="1.4"/>
<polygon points="1138.7,141.1 1143.1,156.9 1134.3,156.9" fill="#000"/>
<text x="1122.3" y="249.1" font-size="22" font-weight="bold" textLength="62" lengthAdjust="spacingAndGlyphs">1.9 eV</text>
<line x1="1138.7" y1="257.8" x2="1138.7" y2="288.4" stroke="#4c4c4c" stroke-width="1.4"/>
<polygon points="1138.7,301 1134.3,285.2 1143.1,285.2" fill="#000"/>
<line x1="1248.2" y1="242" x2="1248.2" y2="195.5" stroke="#4c4c4c" stroke-width="1.4"/>
<polygon points="1248.2,182.9 1252.6,198.7 1243.8,198.7" fill="#000"/>
<text x="1221.7" y="256.3" font-size="22" font-weight="bold" textLength="90.7" lengthAdjust="spacingAndGlyphs">1.52 (eV)</text>
<line x1="1247" y1="266.4" x2="1247" y2="305.7" stroke="#4c4c4c" stroke-width="1.4"/>
<polygon points="1247,318.3 1242.6,302.5 1251.4,302.5" fill="#000"/>
<line x1="1403.7" y1="250.6" x2="1403.7" y2="234.4" stroke="#4c4c4c" stroke-width="1.4"/>
<polygon points="1403.7,221.8 1408.1,237.6 1399.3,237.6" fill="#000"/>
<text x="1378.6" y="279.4" font-size="22" font-weight="bold" textLength="79.2" lengthAdjust="spacingAndGlyphs">3.2 (eV)</text>
<line x1="1400.2" y1="299.5" x2="1400.2" y2="462.4" stroke="#4c4c4c" stroke-width="1.4"/>
<polygon points="1400.2,475 1395.8,459.2 1404.6,459.2" fill="#000"/>
<line x1="1144.5" y1="316.8" x2="1145.3" y2="516.8" stroke="#5a5a5a" stroke-width="1.3"/>
<text x="1205.8" y="395.8" font-size="36" font-weight="bold" textLength="126.7" lengthAdjust="spacingAndGlyphs">CsSnCl<tspan font-size="24.5" dy="9.4">3</tspan></text>
<text x="1218.8" y="434.7" font-size="22.5" font-weight="bold" textLength="94.2" lengthAdjust="spacingAndGlyphs">(0.8 μm)</text>
<line x1="1165" y1="476.5" x2="1353.8" y2="476.5" stroke="#4c4c4c" stroke-width="1.4"/>
<polygon points="1367.7,476.5 1350.3,480.9 1350.3,472.1" fill="#000"/>
<polygon points="1151.1,476.5 1168.5,472.1 1168.5,480.9" fill="#000"/>
<polygon points="1118,490.3 1134.5,486 1134.5,494.6" fill="#000"/>
<polygon points="1143.9,490.3 1127.4,494.6 1127.4,486" fill="#000"/>
<line x1="1202.9" y1="609" x2="1140.2" y2="510.7" stroke="#4c4c4c" stroke-width="1.4"/>
<polygon points="1133,499.5 1145.7,511.2 1138.3,515.9" fill="#000"/>
<text x="1175.6" y="637.8" font-size="33" font-weight="bold" textLength="91.3" lengthAdjust="spacingAndGlyphs">CBTS</text>
<text x="1273.5" y="634.9" font-size="19" font-weight="bold" textLength="79.2" lengthAdjust="spacingAndGlyphs">(0.1 μm)</text>
<text x="1537.2" y="306.7" font-size="33" font-weight="bold" textLength="73.5" lengthAdjust="spacingAndGlyphs">TiO<tspan font-size="22.4" dy="8.6">2</tspan></text>
<text x="1518.5" y="344.2" font-size="23" font-weight="bold" textLength="108" lengthAdjust="spacingAndGlyphs">(0.03 μm)</text>
<line x1="1538.6" y1="357.1" x2="1409.1" y2="505.2" stroke="#4c4c4c" stroke-width="1.4"/>
<polygon points="1400.2,515.4 1408,499.8 1414.6,505.6" fill="#000"/>
<line x1="1381.5" y1="526.9" x2="1402" y2="526.9" stroke="#4c4c4c" stroke-width="1.4"/>
<polygon points="1383.5,526.9 1395.4,522.6 1395.4,531.2" fill="#000"/>
<polygon points="1400,526.9 1388.1,531.2 1388.1,522.6" fill="#000"/>
<line x1="1386.7" y1="482" x2="1386.7" y2="538.4" stroke="#5a5a5a" stroke-width="1.3"/>
<line x1="1400.8" y1="539.8" x2="1400.8" y2="632.9" stroke="#5a5a5a" stroke-width="1.3"/>
<line x1="1733" y1="332.7" x2="1733" y2="225.2" stroke="#4c4c4c" stroke-width="1.4"/>
<polygon points="1733,212.6 1737.4,228.4 1728.6,228.4" fill="#000"/>
<text x="1707.1" y="360.6" font-size="27.5" font-weight="bold" textLength="78.4" lengthAdjust="spacingAndGlyphs">3.5 eV</text>
<line x1="1738" y1="384.5" x2="1738" y2="499.9" stroke="#4c4c4c" stroke-width="1.4"/>
<polygon points="1738,512.5 1733.6,496.7 1742.4,496.7" fill="#000"/>
<line x1="1527.1" y1="598.5" x2="1429.1" y2="598.5" stroke="#4c4c4c" stroke-width="1.4"/>
<polygon points="1415.2,598.5 1432.6,594.1 1432.6,602.9" fill="#000"/>
<line x1="1613.5" y1="598.9" x2="1877.6" y2="598.9" stroke="#4c4c4c" stroke-width="1.4"/>
<polygon points="1891.5,598.9 1874.1,603.3 1874.1,594.5" fill="#000"/>
<text x="1536.6" y="611.9" font-size="33.5" font-weight="bold" textLength="64.5" lengthAdjust="spacingAndGlyphs">ITO</text>
<text x="1515.6" y="640.7" font-size="22.5" font-weight="bold" textLength="95.1" lengthAdjust="spacingAndGlyphs">(0.5 μm)</text>
</g>
<g id="panel-c">
<clipPath id="c3"><rect x="125.8" y="857.2" width="794.1" height="585.5"/></clipPath>
<rect x="126.8" y="857.2" width="792.7" height="585.5" fill="none" stroke="#000" stroke-width="4.2"/>
<line x1="114.3" y1="1442.7" x2="126.8" y2="1442.7" stroke="#000" stroke-width="4.2"/>
<text x="104.3" y="1453.4" font-size="36" font-weight="bold" text-anchor="end" textLength="33" lengthAdjust="spacingAndGlyphs">-4</text>
<line x1="114.3" y1="1352.6" x2="126.8" y2="1352.6" stroke="#000" stroke-width="4.2"/>
<text x="104.3" y="1363.3" font-size="36" font-weight="bold" text-anchor="end" textLength="33" lengthAdjust="spacingAndGlyphs">-3</text>
<line x1="114.3" y1="1262.5" x2="126.8" y2="1262.5" stroke="#000" stroke-width="4.2"/>
<text x="104.3" y="1273.2" font-size="36" font-weight="bold" text-anchor="end" textLength="33" lengthAdjust="spacingAndGlyphs">-2</text>
<line x1="114.3" y1="1172.4" x2="126.8" y2="1172.4" stroke="#000" stroke-width="4.2"/>
<text x="104.3" y="1183.1" font-size="36" font-weight="bold" text-anchor="end" textLength="33" lengthAdjust="spacingAndGlyphs">-1</text>
<line x1="114.3" y1="1082.4" x2="126.8" y2="1082.4" stroke="#000" stroke-width="4.2"/>
<text x="104.3" y="1093.1" font-size="36" font-weight="bold" text-anchor="end" textLength="19.8" lengthAdjust="spacingAndGlyphs">0</text>
<line x1="114.3" y1="992.3" x2="126.8" y2="992.3" stroke="#000" stroke-width="4.2"/>
<text x="104.3" y="1003" font-size="36" font-weight="bold" text-anchor="end" textLength="19.8" lengthAdjust="spacingAndGlyphs">1</text>
<line x1="114.3" y1="902.2" x2="126.8" y2="902.2" stroke="#000" stroke-width="4.2"/>
<text x="104.3" y="912.9" font-size="36" font-weight="bold" text-anchor="end" textLength="19.8" lengthAdjust="spacingAndGlyphs">2</text>
<line x1="120.3" y1="1397.6" x2="126.8" y2="1397.6" stroke="#000" stroke-width="4.2"/>
<line x1="120.3" y1="1307.5" x2="126.8" y2="1307.5" stroke="#000" stroke-width="4.2"/>
<line x1="120.3" y1="1217.5" x2="126.8" y2="1217.5" stroke="#000" stroke-width="4.2"/>
<line x1="120.3" y1="1127.4" x2="126.8" y2="1127.4" stroke="#000" stroke-width="4.2"/>
<line x1="120.3" y1="1037.3" x2="126.8" y2="1037.3" stroke="#000" stroke-width="4.2"/>
<line x1="120.3" y1="947.3" x2="126.8" y2="947.3" stroke="#000" stroke-width="4.2"/>
<line x1="120.3" y1="857.2" x2="126.8" y2="857.2" stroke="#000" stroke-width="4.2"/>
<line x1="126.8" y1="1442.7" x2="126.8" y2="1454.2" stroke="#000" stroke-width="4.2"/>
<text x="125.8" y="1490.9" font-size="36" font-weight="bold" text-anchor="middle" textLength="49.8" lengthAdjust="spacingAndGlyphs">0.0</text>
<line x1="218.9" y1="1442.7" x2="218.9" y2="1454.2" stroke="#000" stroke-width="4.2"/>
<text x="217.9" y="1490.9" font-size="36" font-weight="bold" text-anchor="middle" textLength="49.8" lengthAdjust="spacingAndGlyphs">0.3</text>
<line x1="311.1" y1="1442.7" x2="311.1" y2="1454.2" stroke="#000" stroke-width="4.2"/>
<text x="310.1" y="1490.9" font-size="36" font-weight="bold" text-anchor="middle" textLength="49.8" lengthAdjust="spacingAndGlyphs">0.6</text>
<line x1="403.2" y1="1442.7" x2="403.2" y2="1454.2" stroke="#000" stroke-width="4.2"/>
<text x="402.2" y="1490.9" font-size="36" font-weight="bold" text-anchor="middle" textLength="49.8" lengthAdjust="spacingAndGlyphs">0.9</text>
<line x1="495.3" y1="1442.7" x2="495.3" y2="1454.2" stroke="#000" stroke-width="4.2"/>
<text x="494.3" y="1490.9" font-size="36" font-weight="bold" text-anchor="middle" textLength="49.8" lengthAdjust="spacingAndGlyphs">1.2</text>
<line x1="587.5" y1="1442.7" x2="587.5" y2="1454.2" stroke="#000" stroke-width="4.2"/>
<text x="586.5" y="1490.9" font-size="36" font-weight="bold" text-anchor="middle" textLength="49.8" lengthAdjust="spacingAndGlyphs">1.5</text>
<line x1="679.6" y1="1442.7" x2="679.6" y2="1454.2" stroke="#000" stroke-width="4.2"/>
<text x="678.6" y="1490.9" font-size="36" font-weight="bold" text-anchor="middle" textLength="49.8" lengthAdjust="spacingAndGlyphs">1.8</text>
<line x1="771.7" y1="1442.7" x2="771.7" y2="1454.2" stroke="#000" stroke-width="4.2"/>
<text x="770.7" y="1490.9" font-size="36" font-weight="bold" text-anchor="middle" textLength="49.8" lengthAdjust="spacingAndGlyphs">2.1</text>
<line x1="863.8" y1="1442.7" x2="863.8" y2="1454.2" stroke="#000" stroke-width="4.2"/>
<text x="862.8" y="1490.9" font-size="36" font-weight="bold" text-anchor="middle" textLength="49.8" lengthAdjust="spacingAndGlyphs">2.4</text>
<line x1="172.9" y1="1442.7" x2="172.9" y2="1448.7" stroke="#000" stroke-width="4.2"/>
<line x1="265" y1="1442.7" x2="265" y2="1448.7" stroke="#000" stroke-width="4.2"/>
<line x1="357.1" y1="1442.7" x2="357.1" y2="1448.7" stroke="#000" stroke-width="4.2"/>
<line x1="449.3" y1="1442.7" x2="449.3" y2="1448.7" stroke="#000" stroke-width="4.2"/>
<line x1="541.4" y1="1442.7" x2="541.4" y2="1448.7" stroke="#000" stroke-width="4.2"/>
<line x1="633.5" y1="1442.7" x2="633.5" y2="1448.7" stroke="#000" stroke-width="4.2"/>
<line x1="725.6" y1="1442.7" x2="725.6" y2="1448.7" stroke="#000" stroke-width="4.2"/>
<line x1="817.8" y1="1442.7" x2="817.8" y2="1448.7" stroke="#000" stroke-width="4.2"/>
<line x1="909.9" y1="1442.7" x2="909.9" y2="1448.7" stroke="#000" stroke-width="4.2"/>
<text x="523.1" y="1542.9" font-size="37.5" font-weight="bold" text-anchor="middle" textLength="273" lengthAdjust="spacingAndGlyphs">Thickness (<tspan font-weight="normal">μ</tspan>m)</text>
<text transform="translate(56.2 1149.9) scale(1.15 1) rotate(-90)" font-size="37.5" font-weight="bold" text-anchor="middle" textLength="201.5" lengthAdjust="spacingAndGlyphs">Energy (eV)</text>
<text x="1.1" y="928.3" font-size="60">(c)</text>
<rect x="238.2" y="799.1" width="559.8" height="44.6" fill="#fff" stroke="#333" stroke-width="1.3"/>
<line x1="238" y1="818.1" x2="319.8" y2="818.1" stroke="#0000ff" stroke-width="4.0" stroke-linecap="round"/>
<line x1="386.8" y1="818.1" x2="467.4" y2="818.1" stroke="#e93232" stroke-width="4.0" stroke-linecap="round"/>
<line x1="534.2" y1="818.1" x2="602.1" y2="818.1" stroke="#000" stroke-width="4" stroke-linecap="round" stroke-dasharray="20.3 26.5"/>
<line x1="673.5" y1="818.1" x2="743.1" y2="818.1" stroke="#800080" stroke-width="4" stroke-linecap="round" stroke-dasharray="20.5 27.9"/>
<text x="328.7" y="829.6" font-size="35.5" textLength="20" lengthAdjust="spacingAndGlyphs">E</text>
<text x="351.2" y="838" font-size="23.5">V</text>
<text x="477.4" y="829.6" font-size="35.5" textLength="20" lengthAdjust="spacingAndGlyphs">E</text>
<text x="498.4" y="838" font-size="23.5">C</text>
<text x="624.5" y="829.6" font-size="35.5" textLength="18.2" lengthAdjust="spacingAndGlyphs">F</text>
<text x="643.1" y="838" font-size="23.5">n</text>
<text x="765.2" y="829.6" font-size="35.5" textLength="18.2" lengthAdjust="spacingAndGlyphs">F</text>
<text x="784.4" y="838" font-size="23.5">p</text>
<g clip-path="url(#c3)">
<path d="M142.8 972.3 L144.1 972.4 L145.4 972.6 L146.7 972.9 L148 973.2 L149.3 973.9 L150.6 974.7 L152 975.7 L153.3 977.2 L154.6 979 L155.9 981.4 L157.2 984.4" fill="none" stroke="#000" stroke-width="4.0" stroke-linejoin="round" stroke-linecap="butt"/>
<path d="M177.7 990.1 L572.2 990.1 L919.5 1002.5" fill="none" stroke="#000" stroke-width="4.0" stroke-linejoin="round" stroke-linecap="round" stroke-dasharray="20.6 27.1" stroke-dashoffset="0"/>
<path d="M126.8 1082.4 L403.2 1082.4" fill="none" stroke="#800080" stroke-width="3.9" stroke-linejoin="round" stroke-linecap="round" stroke-dasharray="20.7 26.8" stroke-dashoffset="47"/>
<path d="M403.4 1091.4 L403.4 1107.6" fill="none" stroke="#800080" stroke-width="3.9" stroke-linejoin="round" stroke-linecap="round"/>
<path d="M406.1 1226.8 L407.5 1230.2 L411.8 1232.3 L415.1 1232.6" fill="none" stroke="#800080" stroke-width="3.9" stroke-linejoin="round" stroke-linecap="round"/>
<path d="M418.6 1258.2 L419 1262 L421 1266 L425 1268.5 L428.7 1269.5" fill="none" stroke="#800080" stroke-width="3.9" stroke-linejoin="round" stroke-linecap="round"/>
<path d="M458.4 1273 L458.5 1273 L460.4 1273 L462.4 1273 L464.3 1273 L466.3 1273 L468.3 1273 L470.2 1273 L472.2 1273 L474.2 1273 L476.1 1273 L478.1 1273 L480 1273 L482 1273 L484 1273 L485.9 1273 L487.9 1273 L489.9 1273 L491.8 1273 L493.8 1273 L495.7 1273 L497.7 1273 L499.7 1273 L501.6 1273 L503.6 1273 L505.5 1273 L507.5 1273 L509.5 1273 L511.4 1273 L513.4 1273 L515.4 1273 L517.3 1273 L519.3 1273 L521.2 1273 L523.2 1273 L525.2 1273 L527.1 1273 L529.1 1273 L531 1273 L533 1273 L535 1272.9 L536.9 1272.9 L538.9 1272.8 L540.9 1272.7 L542.8 1272.6 L544.8 1272.5 L546.7 1272.4 L548.7 1272.3 L550.7 1272.2 L552.6 1272 L554.6 1271.9 L556.6 1271.7 L558.5 1271.5 L560.5 1271.2 L562.4 1270.9 L564.4 1270.5 L566.4 1270.1 L568.3 1269.5 L570.3 1268.7 L572.2 1267.9" fill="none" stroke="#800080" stroke-width="3.9" stroke-linejoin="round" stroke-linecap="round" stroke-dasharray="18.1 29.5" stroke-dashoffset="0"/>
<path d="M572.2 1228 L572.2 1243" fill="none" stroke="#800080" stroke-width="3.9" stroke-linejoin="round" stroke-linecap="round"/>
<path d="M572.2 1226.3 L906 1263.8" fill="none" stroke="#800080" stroke-width="3.9" stroke-linejoin="round" stroke-linecap="round" stroke-dasharray="20.9 27.1" stroke-dashoffset="19"/>
<path d="M919.2 1240.4 L919.2 1252.8" fill="none" stroke="#800080" stroke-width="3.9" stroke-linejoin="round" stroke-linecap="round"/>
<path d="M126.8 949.1 L127.4 938.3 L128.3 929.3 L129.3 923.4 L130.2 919.8 L131.3 918.2 L132 918 L153.8 918 L155.1 918.6 L156 920.2 L156.7 922.5 L157.2 925.7 L157.4 929.3 L157.4 953.6 L158.9 954.8 L160.4 955.8 L162 956.5 L163.5 957.1 L165.1 957.6 L166.6 958 L168.2 958.4 L169.7 958.7 L171.3 959 L172.8 959.2 L174.4 959.5 L175.9 959.8 L177.4 960.1 L179 960.3 L180.5 960.6 L182.1 960.8 L183.6 961.1 L185.2 961.4 L186.7 961.6 L188.3 961.8 L189.8 962.1 L191.3 962.3 L192.9 962.5 L194.4 962.7 L196 962.8 L197.5 963 L199.1 963.2 L200.6 963.3 L202.2 963.4 L203.7 963.5 L205.3 963.7 L206.8 963.8 L208.3 963.9 L209.9 964 L211.4 964.1 L213 964.2 L214.5 964.2 L216.1 964.3 L217.6 964.4 L219.2 964.5 L220.7 964.6 L222.3 964.6 L223.8 964.7 L225.3 964.8 L226.9 964.9 L228.4 964.9 L230 965 L231.5 965.1 L233.1 965.1 L234.6 965.2 L236.2 965.3 L237.7 965.3 L239.2 965.4 L240.8 965.4 L242.3 965.5 L243.9 965.6 L245.4 965.6 L247 965.7 L248.5 965.7 L250.1 965.8 L251.6 965.9 L253.2 965.9 L254.7 966 L256.2 966.1 L257.8 966.1 L259.3 966.2 L260.9 966.3 L262.4 966.3 L264 966.4 L265.5 966.5 L267.1 966.5 L268.6 966.6 L270.2 966.6 L271.7 966.7 L273.2 966.8 L274.8 966.8 L276.3 966.9 L277.9 966.9 L279.4 967 L281 967.1 L282.5 967.1 L284.1 967.2 L285.6 967.2 L287.1 967.3 L288.7 967.4 L290.2 967.4 L291.8 967.5 L293.3 967.5 L294.9 967.6 L296.4 967.6 L298 967.7 L299.5 967.8 L301.1 967.8 L302.6 967.9 L304.1 968 L305.7 968 L307.2 968.1 L308.8 968.2 L310.3 968.2 L311.9 968.3 L313.4 968.4 L315 968.4 L316.5 968.5 L318.1 968.6 L319.6 968.7 L321.1 968.7 L322.7 968.8 L324.2 968.9 L325.8 969 L327.3 969 L328.9 969.1 L330.4 969.2 L332 969.3 L333.5 969.3 L335 969.4 L336.6 969.5 L338.1 969.6 L339.7 969.7 L341.2 969.7 L342.8 969.8 L344.3 969.9 L345.9 970 L347.4 970.1 L349 970.2 L350.5 970.3 L352 970.4 L353.6 970.5 L355.1 970.6 L356.7 970.7 L358.2 970.8 L359.8 970.9 L361.3 971 L362.9 971.1 L364.4 971.2 L366 971.3 L367.5 971.4 L369 971.5 L370.6 971.6 L372.1 971.8 L373.7 971.9 L375.2 972 L376.8 972.2 L378.3 972.3 L379.9 972.5 L381.4 972.6 L382.9 972.8 L384.5 973 L386 973.2 L387.6 973.4 L389.1 973.6 L390.7 973.8 L392.2 974 L393.8 974.3 L395.3 974.6 L396.9 974.9 L398.4 975.2 L399.9 975.6 L401.5 976.1 L403 976.8 L403.3 986.4 L414.6 986.9 L416.7 988.7 L418.1 993.2 L418.7 998.6 L418.7 1004.6 L572.2 1004.6 L572.2 972.8 L919.5 1014.6 L919.5 983.3" fill="none" stroke="#e93232" stroke-width="4.1" stroke-linejoin="round" stroke-linecap="butt"/>
<path d="M126.8 1120.2 L127.4 1109.4 L128.3 1100.4 L129.3 1094.5 L130.2 1090.9 L131.3 1089.3 L132 1088.9 L153.8 1088.9 L155.7 1089.6 L156.9 1091.4 L157.4 1097.7 L157.8 1096.8 L158.4 1090.5 L158.9 1091.7 L160.4 1092.7 L162 1093.4 L163.5 1094 L165.1 1094.5 L166.6 1094.9 L168.2 1095.3 L169.7 1095.6 L171.3 1095.9 L172.8 1096.1 L174.4 1096.4 L175.9 1096.7 L177.4 1097 L179 1097.2 L180.5 1097.5 L182.1 1097.8 L183.6 1098 L185.2 1098.3 L186.7 1098.5 L188.3 1098.7 L189.8 1099 L191.3 1099.2 L192.9 1099.4 L194.4 1099.6 L196 1099.7 L197.5 1099.9 L199.1 1100.1 L200.6 1100.2 L202.2 1100.3 L203.7 1100.4 L205.3 1100.6 L206.8 1100.7 L208.3 1100.8 L209.9 1100.9 L211.4 1101 L213 1101.1 L214.5 1101.1 L216.1 1101.2 L217.6 1101.3 L219.2 1101.4 L220.7 1101.5 L222.3 1101.6 L223.8 1101.6 L225.3 1101.7 L226.9 1101.8 L228.4 1101.8 L230 1101.9 L231.5 1102 L233.1 1102 L234.6 1102.1 L236.2 1102.2 L237.7 1102.2 L239.2 1102.3 L240.8 1102.3 L242.3 1102.4 L243.9 1102.5 L245.4 1102.5 L247 1102.6 L248.5 1102.6 L250.1 1102.7 L251.6 1102.8 L253.2 1102.8 L254.7 1102.9 L256.2 1103 L257.8 1103 L259.3 1103.1 L260.9 1103.2 L262.4 1103.2 L264 1103.3 L265.5 1103.4 L267.1 1103.4 L268.6 1103.5 L270.2 1103.5 L271.7 1103.6 L273.2 1103.7 L274.8 1103.7 L276.3 1103.8 L277.9 1103.8 L279.4 1103.9 L281 1104 L282.5 1104 L284.1 1104.1 L285.6 1104.1 L287.1 1104.2 L288.7 1104.3 L290.2 1104.3 L291.8 1104.4 L293.3 1104.4 L294.9 1104.5 L296.4 1104.6 L298 1104.6 L299.5 1104.7 L301.1 1104.7 L302.6 1104.8 L304.1 1104.9 L305.7 1104.9 L307.2 1105 L308.8 1105.1 L310.3 1105.1 L311.9 1105.2 L313.4 1105.3 L315 1105.3 L316.5 1105.4 L318.1 1105.5 L319.6 1105.6 L321.1 1105.6 L322.7 1105.7 L324.2 1105.8 L325.8 1105.9 L327.3 1105.9 L328.9 1106 L330.4 1106.1 L332 1106.2 L333.5 1106.2 L335 1106.3 L336.6 1106.4 L338.1 1106.5 L339.7 1106.6 L341.2 1106.7 L342.8 1106.7 L344.3 1106.8 L345.9 1106.9 L347.4 1107 L349 1107.1 L350.5 1107.2 L352 1107.3 L353.6 1107.4 L355.1 1107.5 L356.7 1107.6 L358.2 1107.7 L359.8 1107.8 L361.3 1107.9 L362.9 1108 L364.4 1108.1 L366 1108.2 L367.5 1108.3 L369 1108.4 L370.6 1108.6 L372.1 1108.7 L373.7 1108.8 L375.2 1108.9 L376.8 1109.1 L378.3 1109.2 L379.9 1109.4 L381.4 1109.5 L382.9 1109.7 L384.5 1109.9 L386 1110.1 L387.6 1110.3 L389.1 1110.5 L390.7 1110.7 L392.2 1110.9 L393.8 1111.2 L395.3 1111.5 L396.9 1111.8 L398.4 1112.1 L399.9 1112.5 L401.5 1113 L403 1113.7 L403.3 1113.9 L403.4 1284.7 L415.5 1285 L417.3 1286.8 L418.4 1292.2 L418.7 1303 L418.7 1320.1 L572.2 1320.1 L572.2 1288.4 L919.5 1330.1 L919.5 1298.5" fill="none" stroke="#0000ff" stroke-width="4.0" stroke-linejoin="round" stroke-linecap="butt"/>
</g>
<line x1="151.2" y1="1010.2" x2="151.2" y2="938.7" stroke="#4c4c4c" stroke-width="1.4"/>
<polygon points="151.2,926.1 155.6,941.9 146.8,941.9" fill="#000"/>
<text x="134.8" y="1041.9" font-size="26.5" font-weight="bold" textLength="77" lengthAdjust="spacingAndGlyphs">1.9 eV</text>
<line x1="148.9" y1="1059.2" x2="148.9" y2="1079.7" stroke="#4c4c4c" stroke-width="1.4"/>
<polygon points="148.9,1092.3 144.5,1076.5 153.3,1076.5" fill="#000"/>
<line x1="322" y1="1010.2" x2="322" y2="985.4" stroke="#4c4c4c" stroke-width="1.4"/>
<polygon points="322,972.8 326.4,988.6 317.6,988.6" fill="#000"/>
<text x="290.3" y="1040.5" font-size="26.5" font-weight="bold" textLength="91.3" lengthAdjust="spacingAndGlyphs">1.52 eV</text>
<line x1="322" y1="1049.1" x2="322" y2="1097" stroke="#4c4c4c" stroke-width="1.4"/>
<polygon points="322,1109.6 317.6,1093.8 326.4,1093.8" fill="#000"/>
<line x1="419.6" y1="1039" x2="419.6" y2="1021.4" stroke="#4c4c4c" stroke-width="1.4"/>
<polygon points="419.6,1008.8 424,1024.6 415.2,1024.6" fill="#000"/>
<text x="392.3" y="1067.2" font-size="26.5" font-weight="bold" textLength="77.7" lengthAdjust="spacingAndGlyphs">3.3 eV</text>
<line x1="414.7" y1="1096.6" x2="414.7" y2="1273.8" stroke="#4c4c4c" stroke-width="1.4"/>
<polygon points="414.7,1286.4 410.3,1270.6 419.1,1270.6" fill="#000"/>
<line x1="159.3" y1="1105.3" x2="159.3" y2="1269.2" stroke="#5a5a5a" stroke-width="1.3"/>
<text x="227.5" y="1185.7" font-size="36" font-weight="bold" textLength="125.3" lengthAdjust="spacingAndGlyphs">CsSnCl<tspan font-size="24.5" dy="9.4">3</tspan></text>
<text x="247.1" y="1221.7" font-size="22.5" font-weight="bold" textLength="88.4" lengthAdjust="spacingAndGlyphs">(0.8μm)</text>
<line x1="173.8" y1="1242.7" x2="386.4" y2="1242.7" stroke="#4c4c4c" stroke-width="1.4"/>
<polygon points="400.3,1242.7 382.9,1247.1 382.9,1238.3" fill="#000"/>
<polygon points="159.9,1242.7 177.3,1238.3 177.3,1247.1" fill="#000"/>
<polygon points="128.5,1260 145,1255.7 145,1264.3" fill="#000"/>
<polygon points="161.3,1260 144.8,1264.3 144.8,1255.7" fill="#000"/>
<line x1="167" y1="1341.3" x2="148.3" y2="1288.2" stroke="#4c4c4c" stroke-width="1.4"/>
<polygon points="144,1275.9 153.6,1289.8 145.3,1292.8" fill="#000"/>
<text x="151.8" y="1378.1" font-size="33" font-weight="bold" textLength="93" lengthAdjust="spacingAndGlyphs">CBTS</text>
<text x="151.8" y="1406.9" font-size="22.5" font-weight="bold" textLength="93.9" lengthAdjust="spacingAndGlyphs">(0.1 μm)</text>
<text x="553.7" y="1111.9" font-size="33.5" font-weight="bold" textLength="70" lengthAdjust="spacingAndGlyphs">ZnO</text>
<text x="531" y="1151.3" font-size="22.5" font-weight="bold" textLength="107.1" lengthAdjust="spacingAndGlyphs">(0.05 μm)</text>
<line x1="529.5" y1="1173.5" x2="415.1" y2="1301" stroke="#4c4c4c" stroke-width="1.4"/>
<polygon points="406.1,1311 414.1,1295.5 420.6,1301.4" fill="#000"/>
<line x1="399.8" y1="1319.7" x2="419.6" y2="1319.7" stroke="#4c4c4c" stroke-width="1.4"/>
<polygon points="401.8,1319.7 413.2,1315.4 413.2,1324" fill="#000"/>
<polygon points="417.6,1319.7 406.2,1324 406.2,1315.4" fill="#000"/>
<line x1="401.2" y1="1284.5" x2="401.2" y2="1328.9" stroke="#5a5a5a" stroke-width="1.3"/>
<line x1="421" y1="1337.8" x2="419.9" y2="1424.8" stroke="#5a5a5a" stroke-width="1.3"/>
<line x1="768.6" y1="1090.9" x2="768.6" y2="1019.1" stroke="#4c4c4c" stroke-width="1.4"/>
<polygon points="768.6,1006.5 773,1022.3 764.2,1022.3" fill="#000"/>
<text x="733.2" y="1134.9" font-size="27.5" font-weight="bold" textLength="78.6" lengthAdjust="spacingAndGlyphs">3.5 eV</text>
<line x1="770.6" y1="1160" x2="770.6" y2="1289.2" stroke="#4c4c4c" stroke-width="1.4"/>
<polygon points="770.6,1301.8 766.2,1286 775,1286" fill="#000"/>
<line x1="622.3" y1="1383.6" x2="461.2" y2="1384.4" stroke="#4c4c4c" stroke-width="1.4"/>
<polygon points="447.3,1384.5 464.7,1380 464.7,1388.8" fill="#000"/>
<line x1="754.2" y1="1377.8" x2="904.5" y2="1377.8" stroke="#4c4c4c" stroke-width="1.4"/>
<polygon points="918.4,1377.8 901,1382.2 901,1373.4" fill="#000"/>
<text x="648.2" y="1393.1" font-size="33.5" font-weight="bold" textLength="64" lengthAdjust="spacingAndGlyphs">ITO</text>
<text x="641" y="1426.2" font-size="22.5" font-weight="bold" textLength="93.6" lengthAdjust="spacingAndGlyphs">(0.5 μm)</text>
</g>
<g id="panel-d">
<clipPath id="c4"><rect x="1110.3" y="857.2" width="801.7" height="585.5"/></clipPath>
<rect x="1111.3" y="857.2" width="800.3" height="585.5" fill="none" stroke="#000" stroke-width="4.2"/>
<line x1="1098.8" y1="1442.7" x2="1111.3" y2="1442.7" stroke="#000" stroke-width="4.2"/>
<text x="1088.8" y="1453.4" font-size="36" font-weight="bold" text-anchor="end" textLength="33" lengthAdjust="spacingAndGlyphs">-4</text>
<line x1="1098.8" y1="1352.6" x2="1111.3" y2="1352.6" stroke="#000" stroke-width="4.2"/>
<text x="1088.8" y="1363.3" font-size="36" font-weight="bold" text-anchor="end" textLength="33" lengthAdjust="spacingAndGlyphs">-3</text>
<line x1="1098.8" y1="1262.5" x2="1111.3" y2="1262.5" stroke="#000" stroke-width="4.2"/>
<text x="1088.8" y="1273.2" font-size="36" font-weight="bold" text-anchor="end" textLength="33" lengthAdjust="spacingAndGlyphs">-2</text>
<line x1="1098.8" y1="1172.4" x2="1111.3" y2="1172.4" stroke="#000" stroke-width="4.2"/>
<text x="1088.8" y="1183.1" font-size="36" font-weight="bold" text-anchor="end" textLength="33" lengthAdjust="spacingAndGlyphs">-1</text>
<line x1="1098.8" y1="1082.4" x2="1111.3" y2="1082.4" stroke="#000" stroke-width="4.2"/>
<text x="1088.8" y="1093.1" font-size="36" font-weight="bold" text-anchor="end" textLength="19.8" lengthAdjust="spacingAndGlyphs">0</text>
<line x1="1098.8" y1="992.3" x2="1111.3" y2="992.3" stroke="#000" stroke-width="4.2"/>
<text x="1088.8" y="1003" font-size="36" font-weight="bold" text-anchor="end" textLength="19.8" lengthAdjust="spacingAndGlyphs">1</text>
<line x1="1098.8" y1="902.2" x2="1111.3" y2="902.2" stroke="#000" stroke-width="4.2"/>
<text x="1088.8" y="912.9" font-size="36" font-weight="bold" text-anchor="end" textLength="19.8" lengthAdjust="spacingAndGlyphs">2</text>
<line x1="1104.8" y1="1397.6" x2="1111.3" y2="1397.6" stroke="#000" stroke-width="4.2"/>
<line x1="1104.8" y1="1307.5" x2="1111.3" y2="1307.5" stroke="#000" stroke-width="4.2"/>
<line x1="1104.8" y1="1217.5" x2="1111.3" y2="1217.5" stroke="#000" stroke-width="4.2"/>
<line x1="1104.8" y1="1127.4" x2="1111.3" y2="1127.4" stroke="#000" stroke-width="4.2"/>
<line x1="1104.8" y1="1037.3" x2="1111.3" y2="1037.3" stroke="#000" stroke-width="4.2"/>
<line x1="1104.8" y1="947.3" x2="1111.3" y2="947.3" stroke="#000" stroke-width="4.2"/>
<line x1="1104.8" y1="857.2" x2="1111.3" y2="857.2" stroke="#000" stroke-width="4.2"/>
<line x1="1111.3" y1="1442.7" x2="1111.3" y2="1454.2" stroke="#000" stroke-width="4.2"/>
<text x="1110.3" y="1491.2" font-size="36" font-weight="bold" text-anchor="middle" textLength="49.8" lengthAdjust="spacingAndGlyphs">0.0</text>
<line x1="1276.8" y1="1442.7" x2="1276.8" y2="1454.2" stroke="#000" stroke-width="4.2"/>
<text x="1275.8" y="1491.2" font-size="36" font-weight="bold" text-anchor="middle" textLength="49.8" lengthAdjust="spacingAndGlyphs">0.3</text>
<line x1="1442.3" y1="1442.7" x2="1442.3" y2="1454.2" stroke="#000" stroke-width="4.2"/>
<text x="1441.3" y="1491.2" font-size="36" font-weight="bold" text-anchor="middle" textLength="49.8" lengthAdjust="spacingAndGlyphs">0.6</text>
<line x1="1607.9" y1="1442.7" x2="1607.9" y2="1454.2" stroke="#000" stroke-width="4.2"/>
<text x="1606.9" y="1491.2" font-size="36" font-weight="bold" text-anchor="middle" textLength="49.8" lengthAdjust="spacingAndGlyphs">0.9</text>
<line x1="1773.4" y1="1442.7" x2="1773.4" y2="1454.2" stroke="#000" stroke-width="4.2"/>
<text x="1772.4" y="1491.2" font-size="36" font-weight="bold" text-anchor="middle" textLength="49.8" lengthAdjust="spacingAndGlyphs">1.2</text>
<line x1="1194.1" y1="1442.7" x2="1194.1" y2="1448.7" stroke="#000" stroke-width="4.2"/>
<line x1="1359.6" y1="1442.7" x2="1359.6" y2="1448.7" stroke="#000" stroke-width="4.2"/>
<line x1="1525.1" y1="1442.7" x2="1525.1" y2="1448.7" stroke="#000" stroke-width="4.2"/>
<line x1="1690.6" y1="1442.7" x2="1690.6" y2="1448.7" stroke="#000" stroke-width="4.2"/>
<line x1="1856.2" y1="1442.7" x2="1856.2" y2="1448.7" stroke="#000" stroke-width="4.2"/>
<text x="1511.4" y="1542.9" font-size="37.5" font-weight="bold" text-anchor="middle" textLength="273" lengthAdjust="spacingAndGlyphs">Thickness (<tspan font-weight="normal">μ</tspan>m)</text>
<text transform="translate(1040.5 1149.9) scale(1.15 1) rotate(-90)" font-size="37.5" font-weight="bold" text-anchor="middle" textLength="201.5" lengthAdjust="spacingAndGlyphs">Energy (eV)</text>
<text x="985" y="929.6" font-size="60">(d)</text>
<rect x="1223.7" y="799.1" width="565" height="44.6" fill="#fff" stroke="#333" stroke-width="1.3"/>
<line x1="1223.5" y1="818.1" x2="1306" y2="818.1" stroke="#0000ff" stroke-width="4.0" stroke-linecap="round"/>
<line x1="1373.7" y1="818.1" x2="1455" y2="818.1" stroke="#e93232" stroke-width="4.0" stroke-linecap="round"/>
<line x1="1522.5" y1="818.1" x2="1591" y2="818.1" stroke="#000" stroke-width="4" stroke-linecap="round" stroke-dasharray="20.3 26.5"/>
<line x1="1663.1" y1="818.1" x2="1733.3" y2="818.1" stroke="#800080" stroke-width="4" stroke-linecap="round" stroke-dasharray="20.5 27.9"/>
<text x="1315" y="829.6" font-size="35.5" textLength="20" lengthAdjust="spacingAndGlyphs">E</text>
<text x="1337.7" y="838" font-size="23.5">V</text>
<text x="1465.1" y="829.6" font-size="35.5" textLength="20" lengthAdjust="spacingAndGlyphs">E</text>
<text x="1486.3" y="838" font-size="23.5">C</text>
<text x="1613.6" y="829.6" font-size="35.5" textLength="18.2" lengthAdjust="spacingAndGlyphs">F</text>
<text x="1632.4" y="838" font-size="23.5">n</text>
<text x="1755.6" y="829.6" font-size="35.5" textLength="18.2" lengthAdjust="spacingAndGlyphs">F</text>
<text x="1775" y="838" font-size="23.5">p</text>
<g clip-path="url(#c4)">
<path d="M1134.4 973.6 L1150.5 973.6" fill="none" stroke="#000" stroke-width="4.0" stroke-linejoin="round" stroke-linecap="round"/>
<path d="M1170.4 990.7 L1911.6 990.7" fill="none" stroke="#000" stroke-width="4.0" stroke-linejoin="round" stroke-linecap="round" stroke-dasharray="20 28" stroke-dashoffset="0"/>
<path d="M1111.3 1082.4 L1610.7 1082.4" fill="none" stroke="#800080" stroke-width="3.9" stroke-linejoin="round" stroke-linecap="round" stroke-dasharray="20.9 27.1" stroke-dashoffset="47.1"/>
<path d="M1629.9 1092.9 L1636.4 1092.9 L1636.4 1104.8" fill="none" stroke="#800080" stroke-width="3.9" stroke-linejoin="round" stroke-linecap="round"/>
<path d="M1636.4 1130 L1636.4 1131" fill="none" stroke="#800080" stroke-width="3.9" stroke-linejoin="round" stroke-linecap="round"/>
<path d="M1638.2 1260.7 L1641.7 1266.5 L1647.1 1269 L1652.5 1270.6 L1657.8 1271.5 L1663.2 1272 L1668.6 1272.5 L1674 1272.8 L1679.4 1273.1 L1684.8 1273.3 L1690.2 1273.3 L1695.6 1273.3 L1700.9 1273.3 L1706.3 1273.3 L1711.7 1273.3 L1717.1 1273.3 L1722.5 1273.3 L1727.9 1273.3 L1733.3 1273.3 L1738.7 1273.3 L1744.1 1273.3 L1749.4 1273.3 L1754.8 1273.3 L1760.2 1273.3 L1765.6 1273.3 L1771 1273.3 L1776.4 1273.3 L1781.8 1273.3 L1787.2 1273.3 L1792.5 1273.3 L1797.9 1273.3 L1803.3 1273.3 L1808.7 1273.3 L1814.1 1273.3 L1819.5 1273.3 L1824.9 1273.3 L1830.3 1273.3 L1835.6 1273.3 L1841 1273.3 L1846.4 1273.3 L1851.8 1273.3 L1857.2 1273.3 L1862.6 1273.2 L1868 1273 L1873.4 1272.7 L1878.8 1272.3 L1884.1 1271.9 L1889.5 1271.4 L1894.9 1270.6 L1900.3 1269.7" fill="none" stroke="#800080" stroke-width="3.9" stroke-linejoin="round" stroke-linecap="round" stroke-dasharray="19.1 28.9" stroke-dashoffset="0"/>
<path d="M1911.2 1235.2 L1911.2 1252.8" fill="none" stroke="#800080" stroke-width="3.9" stroke-linejoin="round" stroke-linecap="round"/>
<path d="M1111.3 949.1 L1112.4 938.3 L1114.1 929.3 L1115.7 923.4 L1117.4 919.8 L1119.3 918.2 L1120.7 918 L1159.9 918 L1162.1 918.6 L1163.7 920.2 L1165.1 922.5 L1165.9 925.7 L1166.2 929.3 L1166.2 953.6 L1169.6 955.5 L1173 956.7 L1176.5 957.6 L1179.9 958.2 L1183.3 958.8 L1186.7 959.3 L1190.2 959.8 L1193.6 960.1 L1197 960.4 L1200.4 960.7 L1203.8 960.9 L1207.3 961.1 L1210.7 961.4 L1214.1 961.6 L1217.5 961.8 L1220.9 962 L1224.4 962.2 L1227.8 962.4 L1231.2 962.5 L1234.6 962.7 L1238.1 962.9 L1241.5 963.1 L1244.9 963.2 L1248.3 963.4 L1251.7 963.5 L1255.2 963.6 L1258.6 963.7 L1262 963.9 L1265.4 964 L1268.9 964.1 L1272.3 964.2 L1275.7 964.3 L1279.1 964.4 L1282.5 964.5 L1286 964.6 L1289.4 964.6 L1292.8 964.7 L1296.2 964.8 L1299.6 964.9 L1303.1 965 L1306.5 965.1 L1309.9 965.1 L1313.3 965.2 L1316.8 965.3 L1320.2 965.3 L1323.6 965.4 L1327 965.5 L1330.4 965.5 L1333.9 965.6 L1337.3 965.7 L1340.7 965.7 L1344.1 965.8 L1347.5 965.9 L1351 965.9 L1354.4 966 L1357.8 966 L1361.2 966.1 L1364.7 966.2 L1368.1 966.2 L1371.5 966.3 L1374.9 966.3 L1378.3 966.4 L1381.8 966.4 L1385.2 966.5 L1388.6 966.5 L1392 966.6 L1395.5 966.6 L1398.9 966.7 L1402.3 966.8 L1405.7 966.8 L1409.1 966.9 L1412.6 966.9 L1416 967 L1419.4 967 L1422.8 967.1 L1426.2 967.1 L1429.7 967.2 L1433.1 967.2 L1436.5 967.3 L1439.9 967.3 L1443.4 967.4 L1446.8 967.5 L1450.2 967.5 L1453.6 967.6 L1457 967.6 L1460.5 967.7 L1463.9 967.8 L1467.3 967.8 L1470.7 967.9 L1474.2 967.9 L1477.6 968 L1481 968 L1484.4 968.1 L1487.8 968.2 L1491.3 968.2 L1494.7 968.3 L1498.1 968.3 L1501.5 968.4 L1504.9 968.5 L1508.4 968.5 L1511.8 968.6 L1515.2 968.6 L1518.6 968.7 L1522.1 968.8 L1525.5 968.9 L1528.9 968.9 L1532.3 969 L1535.7 969.1 L1539.2 969.2 L1542.6 969.3 L1546 969.4 L1549.4 969.5 L1552.9 969.6 L1556.3 969.7 L1559.7 969.9 L1563.1 970 L1566.5 970.1 L1570 970.3 L1573.4 970.4 L1576.8 970.5 L1580.2 970.7 L1583.6 970.8 L1587.1 971 L1590.5 971.1 L1593.9 971.3 L1597.3 971.5 L1600.8 971.7 L1604.2 972 L1607.6 972.3 L1608.2 972.4 L1609.6 972.7 L1611.1 972.9 L1612.5 973.2 L1614 973.4 L1615.4 973.7 L1616.9 973.9 L1618.3 974.2 L1619.8 974.4 L1621.2 974.6 L1622.7 974.8 L1624.1 975 L1625.6 975.3 L1627 975.6 L1628.5 976 L1629.9 976.5 L1631.4 977.3 L1632.8 978.6 L1634.3 981.3 L1635.7 992.3 L1636 1004.6 L1911.6 1004.6 L1911.6 971.4" fill="none" stroke="#e93232" stroke-width="4.1" stroke-linejoin="round" stroke-linecap="butt"/>
<path d="M1111.3 1120.2 L1112.4 1109.4 L1114.1 1100.4 L1115.7 1094.5 L1117.4 1090.9 L1119.3 1089.3 L1120.7 1088.9 L1159.9 1088.9 L1163.2 1089.6 L1165.4 1091.4 L1166.2 1097.7 L1167 1096.8 L1168.1 1090.5 L1169.6 1092.4 L1173 1093.6 L1176.5 1094.5 L1179.9 1095.2 L1183.3 1095.7 L1186.7 1096.2 L1190.2 1096.7 L1193.6 1097 L1197 1097.3 L1200.4 1097.6 L1203.8 1097.8 L1207.3 1098 L1210.7 1098.3 L1214.1 1098.5 L1217.5 1098.7 L1220.9 1098.9 L1224.4 1099.1 L1227.8 1099.3 L1231.2 1099.5 L1234.6 1099.6 L1238.1 1099.8 L1241.5 1100 L1244.9 1100.1 L1248.3 1100.3 L1251.7 1100.4 L1255.2 1100.5 L1258.6 1100.6 L1262 1100.8 L1265.4 1100.9 L1268.9 1101 L1272.3 1101.1 L1275.7 1101.2 L1279.1 1101.3 L1282.5 1101.4 L1286 1101.5 L1289.4 1101.5 L1292.8 1101.6 L1296.2 1101.7 L1299.6 1101.8 L1303.1 1101.9 L1306.5 1102 L1309.9 1102 L1313.3 1102.1 L1316.8 1102.2 L1320.2 1102.2 L1323.6 1102.3 L1327 1102.4 L1330.4 1102.4 L1333.9 1102.5 L1337.3 1102.6 L1340.7 1102.6 L1344.1 1102.7 L1347.5 1102.8 L1351 1102.8 L1354.4 1102.9 L1357.8 1102.9 L1361.2 1103 L1364.7 1103.1 L1368.1 1103.1 L1371.5 1103.2 L1374.9 1103.2 L1378.3 1103.3 L1381.8 1103.3 L1385.2 1103.4 L1388.6 1103.4 L1392 1103.5 L1395.5 1103.6 L1398.9 1103.6 L1402.3 1103.7 L1405.7 1103.7 L1409.1 1103.8 L1412.6 1103.8 L1416 1103.9 L1419.4 1103.9 L1422.8 1104 L1426.2 1104 L1429.7 1104.1 L1433.1 1104.1 L1436.5 1104.2 L1439.9 1104.3 L1443.4 1104.3 L1446.8 1104.4 L1450.2 1104.4 L1453.6 1104.5 L1457 1104.5 L1460.5 1104.6 L1463.9 1104.7 L1467.3 1104.7 L1470.7 1104.8 L1474.2 1104.8 L1477.6 1104.9 L1481 1104.9 L1484.4 1105 L1487.8 1105.1 L1491.3 1105.1 L1494.7 1105.2 L1498.1 1105.2 L1501.5 1105.3 L1504.9 1105.4 L1508.4 1105.4 L1511.8 1105.5 L1515.2 1105.6 L1518.6 1105.6 L1522.1 1105.7 L1525.5 1105.8 L1528.9 1105.8 L1532.3 1105.9 L1535.7 1106 L1539.2 1106.1 L1542.6 1106.2 L1546 1106.3 L1549.4 1106.4 L1552.9 1106.5 L1556.3 1106.6 L1559.7 1106.8 L1563.1 1106.9 L1566.5 1107 L1570 1107.2 L1573.4 1107.3 L1576.8 1107.4 L1580.2 1107.6 L1583.6 1107.7 L1587.1 1107.9 L1590.5 1108 L1593.9 1108.2 L1597.3 1108.4 L1600.8 1108.6 L1604.2 1108.9 L1607.6 1109.2 L1608 1109.4 L1608.2 1126.4 L1609.6 1126.7 L1611.1 1126.9 L1612.5 1127.2 L1614 1127.5 L1615.4 1127.7 L1616.9 1128 L1618.3 1128.2 L1619.8 1128.4 L1621.2 1128.7 L1622.7 1128.9 L1624.1 1129.1 L1625.6 1129.3 L1627 1129.6 L1628.5 1130 L1629.9 1130.5 L1631.4 1131.3 L1632.8 1132.6 L1634.3 1135.3 L1635.7 1140 L1636 1320.1 L1911.6 1320.1 L1911.6 1286.8" fill="none" stroke="#0000ff" stroke-width="4.0" stroke-linejoin="round" stroke-linecap="butt"/>
</g>
<line x1="1141.6" y1="995.8" x2="1142.8" y2="935.1" stroke="#4c4c4c" stroke-width="1.4"/>
<polygon points="1143,922.4 1147.1,938.3 1138.3,938.1" fill="#000"/>
<text x="1128" y="1019.7" font-size="26.5" font-weight="bold" textLength="77.8" lengthAdjust="spacingAndGlyphs">1.9 eV</text>
<line x1="1141" y1="1033.3" x2="1138.8" y2="1073.8" stroke="#4c4c4c" stroke-width="1.4"/>
<polygon points="1138.1,1086.5 1134.6,1070.4 1143.4,1070.9" fill="#000"/>
<line x1="1377.8" y1="1007.3" x2="1377.8" y2="982.5" stroke="#4c4c4c" stroke-width="1.4"/>
<polygon points="1377.8,969.9 1382.2,985.7 1373.4,985.7" fill="#000"/>
<text x="1339.7" y="1040.5" font-size="26.5" font-weight="bold" textLength="92.2" lengthAdjust="spacingAndGlyphs">1.52 eV</text>
<line x1="1376.3" y1="1059.2" x2="1376.3" y2="1094.7" stroke="#4c4c4c" stroke-width="1.4"/>
<polygon points="1376.3,1107.3 1371.9,1091.5 1380.7,1091.5" fill="#000"/>
<line x1="1164.6" y1="1100.9" x2="1164.9" y2="1275.9" stroke="#5a5a5a" stroke-width="1.3"/>
<line x1="1109.3" y1="1141.3" x2="1109.3" y2="1284.5" stroke="#5a5a5a" stroke-width="1.3"/>
<text x="1296.5" y="1184.3" font-size="36" font-weight="bold" textLength="128.2" lengthAdjust="spacingAndGlyphs">CsSnCl<tspan font-size="24.5" dy="9.4">3</tspan></text>
<text x="1309.5" y="1227.5" font-size="22.5" font-weight="bold" textLength="95" lengthAdjust="spacingAndGlyphs">(0.8 μm)</text>
<line x1="1123.2" y1="1213.1" x2="1155.9" y2="1213.1" stroke="#4c4c4c" stroke-width="1.4"/>
<polygon points="1169.8,1213.1 1152.4,1217.5 1152.4,1208.7" fill="#000"/>
<polygon points="1109.3,1213.1 1126.7,1208.7 1126.7,1217.5" fill="#000"/>
<line x1="1208.2" y1="1258.3" x2="1557.3" y2="1257.2" stroke="#4c4c4c" stroke-width="1.4"/>
<polygon points="1571.2,1257.2 1553.8,1261.7 1553.8,1252.9" fill="#000"/>
<polygon points="1194.3,1258.3 1211.7,1253.8 1211.7,1262.6" fill="#000"/>
<line x1="1157.7" y1="1328.3" x2="1145" y2="1248" stroke="#4c4c4c" stroke-width="1.4"/>
<polygon points="1143,1235.3 1149.9,1250.5 1141.2,1251.8" fill="#000"/>
<text x="1119.4" y="1370.1" font-size="33" font-weight="bold" textLength="92.2" lengthAdjust="spacingAndGlyphs">CBTS</text>
<text x="1123.7" y="1399.7" font-size="22.5" font-weight="bold" textLength="108.6" lengthAdjust="spacingAndGlyphs">(0.10 μm)</text>
<line x1="1621.3" y1="1003" x2="1621.3" y2="986.8" stroke="#4c4c4c" stroke-width="1.4"/>
<polygon points="1621.3,974.2 1625.7,990 1616.9,990" fill="#000"/>
<text x="1594" y="1034.7" font-size="26.5" font-weight="bold" textLength="78" lengthAdjust="spacingAndGlyphs">1.7 eV</text>
<line x1="1622.7" y1="1040.5" x2="1620.6" y2="1108.4" stroke="#4c4c4c" stroke-width="1.4"/>
<polygon points="1620.2,1121.1 1616.3,1105.1 1625.1,1105.4" fill="#000"/>
<line x1="1809.4" y1="1049.1" x2="1809.4" y2="1022.8" stroke="#4c4c4c" stroke-width="1.4"/>
<polygon points="1809.4,1010.2 1813.8,1026 1805,1026" fill="#000"/>
<text x="1775.7" y="1091.4" font-size="27.5" font-weight="bold" textLength="79.2" lengthAdjust="spacingAndGlyphs">3.5 eV</text>
<line x1="1808.8" y1="1112.5" x2="1808" y2="1305.6" stroke="#4c4c4c" stroke-width="1.4"/>
<polygon points="1808,1318.2 1803.7,1302.4 1812.5,1302.4" fill="#000"/>
<text x="1682.7" y="1150.5" font-size="34" font-weight="bold" textLength="49" lengthAdjust="spacingAndGlyphs">C<tspan font-size="23.8" dy="8.2">60</tspan></text>
<text x="1663.4" y="1180.1" font-size="22.5" font-weight="bold" textLength="108.5" lengthAdjust="spacingAndGlyphs">(0.05 μm)</text>
<line x1="1678.3" y1="1192.3" x2="1635.8" y2="1260.8" stroke="#4c4c4c" stroke-width="1.4"/>
<polygon points="1628.8,1272.1 1633.8,1255.6 1641.3,1260.3" fill="#000"/>
<line x1="1608.7" y1="1284.5" x2="1630.8" y2="1284.5" stroke="#4c4c4c" stroke-width="1.4"/>
<polygon points="1610.7,1284.5 1623.7,1280.2 1623.7,1288.8" fill="#000"/>
<polygon points="1628.8,1284.5 1615.8,1288.8 1615.8,1280.2" fill="#000"/>
<line x1="1607.8" y1="1131.2" x2="1607.8" y2="1297.2" stroke="#5a5a5a" stroke-width="1.3"/>
<line x1="1632.8" y1="1332.6" x2="1632.8" y2="1400.3" stroke="#5a5a5a" stroke-width="1.3"/>
<line x1="1702.8" y1="1378.7" x2="1647.6" y2="1378.7" stroke="#4c4c4c" stroke-width="1.4"/>
<polygon points="1633.7,1378.7 1651.1,1374.3 1651.1,1383.1" fill="#000"/>
<line x1="1808" y1="1376.4" x2="1894.9" y2="1376.4" stroke="#4c4c4c" stroke-width="1.4"/>
<polygon points="1908.8,1376.4 1891.4,1380.8 1891.4,1372" fill="#000"/>
<text x="1721.5" y="1385" font-size="33.5" font-weight="bold" textLength="64.8" lengthAdjust="spacingAndGlyphs">ITO</text>
<text x="1699.1" y="1416.1" font-size="22.5" font-weight="bold" textLength="95.3" lengthAdjust="spacingAndGlyphs">(0.5 μm)</text>
<line x1="1111.3" y1="1206.1" x2="1111.3" y2="1220.1" stroke="#000" stroke-width="4.2"/>
</g>
<g id="panel-e">
<clipPath id="c5"><rect x="125.3" y="1652.9" width="790.3" height="594.7"/></clipPath>
<rect x="126.3" y="1652.9" width="788.9" height="594.7" fill="none" stroke="#000" stroke-width="4.2"/>
<line x1="113.8" y1="2247.6" x2="126.3" y2="2247.6" stroke="#000" stroke-width="4.2"/>
<text x="103.8" y="2258.3" font-size="36" font-weight="bold" text-anchor="end" textLength="33" lengthAdjust="spacingAndGlyphs">-4</text>
<line x1="113.8" y1="2156.1" x2="126.3" y2="2156.1" stroke="#000" stroke-width="4.2"/>
<text x="103.8" y="2166.8" font-size="36" font-weight="bold" text-anchor="end" textLength="33" lengthAdjust="spacingAndGlyphs">-3</text>
<line x1="113.8" y1="2064.6" x2="126.3" y2="2064.6" stroke="#000" stroke-width="4.2"/>
<text x="103.8" y="2075.3" font-size="36" font-weight="bold" text-anchor="end" textLength="33" lengthAdjust="spacingAndGlyphs">-2</text>
<line x1="113.8" y1="1973.1" x2="126.3" y2="1973.1" stroke="#000" stroke-width="4.2"/>
<text x="103.8" y="1983.8" font-size="36" font-weight="bold" text-anchor="end" textLength="33" lengthAdjust="spacingAndGlyphs">-1</text>
<line x1="113.8" y1="1881.6" x2="126.3" y2="1881.6" stroke="#000" stroke-width="4.2"/>
<text x="103.8" y="1892.3" font-size="36" font-weight="bold" text-anchor="end" textLength="19.8" lengthAdjust="spacingAndGlyphs">0</text>
<line x1="113.8" y1="1790.1" x2="126.3" y2="1790.1" stroke="#000" stroke-width="4.2"/>
<text x="103.8" y="1800.8" font-size="36" font-weight="bold" text-anchor="end" textLength="19.8" lengthAdjust="spacingAndGlyphs">1</text>
<line x1="113.8" y1="1698.6" x2="126.3" y2="1698.6" stroke="#000" stroke-width="4.2"/>
<text x="103.8" y="1709.3" font-size="36" font-weight="bold" text-anchor="end" textLength="19.8" lengthAdjust="spacingAndGlyphs">2</text>
<line x1="119.8" y1="2201.9" x2="126.3" y2="2201.9" stroke="#000" stroke-width="4.2"/>
<line x1="119.8" y1="2110.4" x2="126.3" y2="2110.4" stroke="#000" stroke-width="4.2"/>
<line x1="119.8" y1="2018.9" x2="126.3" y2="2018.9" stroke="#000" stroke-width="4.2"/>
<line x1="119.8" y1="1927.4" x2="126.3" y2="1927.4" stroke="#000" stroke-width="4.2"/>
<line x1="119.8" y1="1835.9" x2="126.3" y2="1835.9" stroke="#000" stroke-width="4.2"/>
<line x1="119.8" y1="1744.4" x2="126.3" y2="1744.4" stroke="#000" stroke-width="4.2"/>
<line x1="119.8" y1="1652.9" x2="126.3" y2="1652.9" stroke="#000" stroke-width="4.2"/>
<line x1="126.3" y1="2247.6" x2="126.3" y2="2259.1" stroke="#000" stroke-width="4.2"/>
<text x="125.3" y="2295.6" font-size="36" font-weight="bold" text-anchor="middle" textLength="49.8" lengthAdjust="spacingAndGlyphs">0.0</text>
<line x1="291.7" y1="2247.6" x2="291.7" y2="2259.1" stroke="#000" stroke-width="4.2"/>
<text x="290.7" y="2295.6" font-size="36" font-weight="bold" text-anchor="middle" textLength="49.8" lengthAdjust="spacingAndGlyphs">0.3</text>
<line x1="457.1" y1="2247.6" x2="457.1" y2="2259.1" stroke="#000" stroke-width="4.2"/>
<text x="456.1" y="2295.6" font-size="36" font-weight="bold" text-anchor="middle" textLength="49.8" lengthAdjust="spacingAndGlyphs">0.6</text>
<line x1="622.5" y1="2247.6" x2="622.5" y2="2259.1" stroke="#000" stroke-width="4.2"/>
<text x="621.5" y="2295.6" font-size="36" font-weight="bold" text-anchor="middle" textLength="49.8" lengthAdjust="spacingAndGlyphs">0.9</text>
<line x1="787.9" y1="2247.6" x2="787.9" y2="2259.1" stroke="#000" stroke-width="4.2"/>
<text x="786.9" y="2295.6" font-size="36" font-weight="bold" text-anchor="middle" textLength="49.8" lengthAdjust="spacingAndGlyphs">1.2</text>
<line x1="209" y1="2247.6" x2="209" y2="2253.6" stroke="#000" stroke-width="4.2"/>
<line x1="374.4" y1="2247.6" x2="374.4" y2="2253.6" stroke="#000" stroke-width="4.2"/>
<line x1="539.8" y1="2247.6" x2="539.8" y2="2253.6" stroke="#000" stroke-width="4.2"/>
<line x1="705.2" y1="2247.6" x2="705.2" y2="2253.6" stroke="#000" stroke-width="4.2"/>
<line x1="870.6" y1="2247.6" x2="870.6" y2="2253.6" stroke="#000" stroke-width="4.2"/>
<text x="520.8" y="2350" font-size="37.5" font-weight="bold" text-anchor="middle" textLength="273" lengthAdjust="spacingAndGlyphs">Thickness (<tspan font-weight="normal">μ</tspan>m)</text>
<text transform="translate(56.2 1950.2) scale(1.15 1) rotate(-90)" font-size="37.5" font-weight="bold" text-anchor="middle" textLength="201.5" lengthAdjust="spacingAndGlyphs">Energy (eV)</text>
<text x="0.5" y="1682" font-size="60">(e)</text>
<rect x="237" y="1594.7" width="557.5" height="45.5" fill="#fff" stroke="#333" stroke-width="1.3"/>
<line x1="236.8" y1="1613.7" x2="318.3" y2="1613.7" stroke="#0000ff" stroke-width="4.0" stroke-linecap="round"/>
<line x1="385" y1="1613.7" x2="465.2" y2="1613.7" stroke="#e93232" stroke-width="4.0" stroke-linecap="round"/>
<line x1="531.8" y1="1613.7" x2="599.4" y2="1613.7" stroke="#000" stroke-width="4" stroke-linecap="round" stroke-dasharray="20.3 26.5"/>
<line x1="670.5" y1="1613.7" x2="739.8" y2="1613.7" stroke="#800080" stroke-width="4" stroke-linecap="round" stroke-dasharray="20.5 27.9"/>
<text x="327.1" y="1625.2" font-size="35.5" textLength="20" lengthAdjust="spacingAndGlyphs">E</text>
<text x="349.5" y="1633.6" font-size="23.5">V</text>
<text x="475.2" y="1625.2" font-size="35.5" textLength="20" lengthAdjust="spacingAndGlyphs">E</text>
<text x="496.1" y="1633.6" font-size="23.5">C</text>
<text x="621.7" y="1625.2" font-size="35.5" textLength="18.2" lengthAdjust="spacingAndGlyphs">F</text>
<text x="640.3" y="1633.6" font-size="23.5">n</text>
<text x="761.8" y="1625.2" font-size="35.5" textLength="18.2" lengthAdjust="spacingAndGlyphs">F</text>
<text x="781" y="1633.6" font-size="23.5">p</text>
<g clip-path="url(#c5)">
<path d="M148.9 1771.3 L166.5 1771.3" fill="none" stroke="#000" stroke-width="4.0" stroke-linejoin="round" stroke-linecap="round"/>
<path d="M180.2 1784.5 L180.2 1788 L196.7 1788" fill="none" stroke="#000" stroke-width="4.0" stroke-linejoin="round" stroke-linecap="round"/>
<path d="M225.2 1787.7 L915.2 1787.7" fill="none" stroke="#000" stroke-width="4.0" stroke-linejoin="round" stroke-linecap="round" stroke-dasharray="20.6 27.1" stroke-dashoffset="0"/>
<path d="M126.3 1881.6 L620.5 1881.6" fill="none" stroke="#800080" stroke-width="3.9" stroke-linejoin="round" stroke-linecap="round" stroke-dasharray="20.5 26.7" stroke-dashoffset="46"/>
<path d="M640.2 2030.7 L640.2 2046.9" fill="none" stroke="#800080" stroke-width="3.9" stroke-linejoin="round" stroke-linecap="round"/>
<path d="M650.2 2071.5 L653.6 2073 L658.9 2073.6 L664.2 2074 L669.5 2074.2 L674.9 2074.3 L680.2 2074.3 L685.5 2074.3 L690.8 2074.3 L696.1 2074.3 L701.4 2074.3 L706.7 2074.3 L712 2074.3 L717.3 2074.3 L722.6 2074.3 L728 2074.3 L733.3 2074.3 L738.6 2074.3 L743.9 2074.3 L749.2 2074.3 L754.5 2074.3 L759.8 2074.3 L765.1 2074.3 L770.4 2074.3 L775.7 2074.3 L781.1 2074.3 L786.4 2074.3 L791.7 2074.3 L797 2074.3 L802.3 2074.3 L807.6 2074.3 L812.9 2074.3 L818.2 2074.3 L823.5 2074.3 L828.8 2074.3 L834.2 2074.3 L839.5 2074.3 L844.8 2074.3 L850.1 2074.3 L855.4 2074.2 L860.7 2074.1 L866 2073.9 L871.3 2073.7 L876.6 2073.5 L881.9 2073.3 L887.3 2073 L892.6 2072.5 L897.9 2071.9 L903.2 2071 L908.5 2069.6" fill="none" stroke="#800080" stroke-width="3.9" stroke-linejoin="round" stroke-linecap="round" stroke-dasharray="19.6 27.9" stroke-dashoffset="0"/>
<path d="M914.8 2029.2 L914.8 2046.9" fill="none" stroke="#800080" stroke-width="3.9" stroke-linejoin="round" stroke-linecap="round"/>
<path d="M126.3 1746.2 L127.4 1735.2 L129.1 1726.1 L130.7 1720.1 L132.4 1716.5 L134.3 1714.8 L135.7 1714.7 L174.8 1714.7 L177 1715.3 L178.7 1716.9 L180.1 1719.2 L180.9 1722.4 L181.2 1726.1 L181.2 1749.9 L184.6 1751.9 L188.1 1753.1 L191.5 1753.9 L194.9 1754.6 L198.3 1755.1 L201.7 1755.6 L205.2 1756.1 L208.6 1756.5 L212 1756.9 L215.4 1757.2 L218.9 1757.5 L222.3 1757.8 L225.7 1758.1 L229.1 1758.4 L232.6 1758.6 L236 1758.9 L239.4 1759.1 L242.8 1759.3 L246.2 1759.5 L249.7 1759.7 L253.1 1759.9 L256.5 1760.1 L259.9 1760.3 L263.4 1760.4 L266.8 1760.6 L270.2 1760.7 L273.6 1760.8 L277 1761 L280.5 1761.1 L283.9 1761.2 L287.3 1761.3 L290.7 1761.4 L294.2 1761.5 L297.6 1761.6 L301 1761.7 L304.4 1761.8 L307.9 1761.9 L311.3 1762 L314.7 1762.1 L318.1 1762.2 L321.5 1762.3 L325 1762.4 L328.4 1762.5 L331.8 1762.5 L335.2 1762.6 L338.7 1762.7 L342.1 1762.7 L345.5 1762.8 L348.9 1762.8 L352.3 1762.9 L355.8 1762.9 L359.2 1763 L362.6 1763 L366 1763 L369.5 1763.1 L372.9 1763.1 L376.3 1763.1 L379.7 1763.2 L383.2 1763.2 L386.6 1763.2 L390 1763.3 L393.4 1763.3 L396.8 1763.3 L400.3 1763.3 L403.7 1763.3 L407.1 1763.4 L410.5 1763.4 L414 1763.4 L417.4 1763.4 L420.8 1763.4 L424.2 1763.4 L427.6 1763.4 L431.1 1763.4 L434.5 1763.4 L437.9 1763.4 L441.3 1763.4 L444.8 1763.4 L448.2 1763.4 L451.6 1763.4 L455 1763.3 L458.5 1763.3 L461.9 1763.3 L465.3 1763.2 L468.7 1763.2 L472.1 1763.2 L475.6 1763.1 L479 1763.1 L482.4 1763 L485.8 1763 L489.3 1763 L492.7 1762.9 L496.1 1762.9 L499.5 1762.8 L502.9 1762.7 L506.4 1762.7 L509.8 1762.6 L513.2 1762.5 L516.6 1762.4 L520.1 1762.3 L523.5 1762.1 L526.9 1762 L530.3 1761.9 L533.8 1761.7 L537.2 1761.6 L540.6 1761.4 L544 1761.2 L547.4 1761 L550.9 1760.9 L554.3 1760.7 L557.7 1760.5 L561.1 1760.3 L564.6 1760.1 L568 1759.9 L571.4 1759.7 L574.8 1759.5 L578.2 1759.3 L581.7 1759 L585.1 1758.8 L588.5 1758.5 L591.9 1758.3 L595.4 1758 L598.8 1757.7 L602.2 1757.4 L605.6 1757.1 L609.1 1756.8 L612.5 1756.5 L615.9 1756.2 L619.3 1755.9 L622.7 1755.6 L623.3 1779.6 L630.7 1779.9 L634 1781.9 L637.4 1785.6 L639.3 1790.1 L639.8 1796.5 L640.1 1802.8 L915.2 1802.8 L915.2 1766.6" fill="none" stroke="#e93232" stroke-width="4.1" stroke-linejoin="round" stroke-linecap="butt"/>
<path d="M126.3 1920.1 L127.4 1909.1 L129.1 1899.9 L130.7 1894 L132.4 1890.3 L134.3 1888.7 L135.7 1888.2 L174.8 1888.2 L178.1 1889 L180.3 1890.8 L181.2 1897.2 L182 1896.3 L183.1 1889.9 L184.6 1891 L188.1 1892.2 L191.5 1893 L194.9 1893.7 L198.3 1894.2 L201.7 1894.7 L205.2 1895.1 L208.6 1895.5 L212 1895.9 L215.4 1896.3 L218.9 1896.6 L222.3 1896.9 L225.7 1897.2 L229.1 1897.5 L232.6 1897.7 L236 1898 L239.4 1898.2 L242.8 1898.4 L246.2 1898.6 L249.7 1898.8 L253.1 1899 L256.5 1899.2 L259.9 1899.3 L263.4 1899.5 L266.8 1899.6 L270.2 1899.8 L273.6 1899.9 L277 1900 L280.5 1900.1 L283.9 1900.3 L287.3 1900.4 L290.7 1900.5 L294.2 1900.6 L297.6 1900.7 L301 1900.8 L304.4 1900.9 L307.9 1901 L311.3 1901.1 L314.7 1901.2 L318.1 1901.3 L321.5 1901.4 L325 1901.4 L328.4 1901.5 L331.8 1901.6 L335.2 1901.7 L338.7 1901.7 L342.1 1901.8 L345.5 1901.8 L348.9 1901.9 L352.3 1901.9 L355.8 1902 L359.2 1902 L362.6 1902.1 L366 1902.1 L369.5 1902.1 L372.9 1902.2 L376.3 1902.2 L379.7 1902.2 L383.2 1902.3 L386.6 1902.3 L390 1902.3 L393.4 1902.4 L396.8 1902.4 L400.3 1902.4 L403.7 1902.4 L407.1 1902.4 L410.5 1902.4 L414 1902.5 L417.4 1902.5 L420.8 1902.5 L424.2 1902.5 L427.6 1902.5 L431.1 1902.5 L434.5 1902.5 L437.9 1902.5 L441.3 1902.5 L444.8 1902.5 L448.2 1902.4 L451.6 1902.4 L455 1902.4 L458.5 1902.4 L461.9 1902.3 L465.3 1902.3 L468.7 1902.3 L472.1 1902.2 L475.6 1902.2 L479 1902.2 L482.4 1902.1 L485.8 1902.1 L489.3 1902 L492.7 1902 L496.1 1901.9 L499.5 1901.9 L502.9 1901.8 L506.4 1901.7 L509.8 1901.7 L513.2 1901.6 L516.6 1901.5 L520.1 1901.3 L523.5 1901.2 L526.9 1901.1 L530.3 1900.9 L533.8 1900.8 L537.2 1900.6 L540.6 1900.5 L544 1900.3 L547.4 1900.1 L550.9 1899.9 L554.3 1899.7 L557.7 1899.5 L561.1 1899.4 L564.6 1899.2 L568 1899 L571.4 1898.8 L574.8 1898.6 L578.2 1898.3 L581.7 1898.1 L585.1 1897.9 L588.5 1897.6 L591.9 1897.3 L595.4 1897.1 L598.8 1896.8 L602.2 1896.5 L605.6 1896.2 L609.1 1895.9 L612.5 1895.6 L615.9 1895.3 L619.3 1894.9 L622.7 1894.6 L623.1 2059.1 L629.1 2059.6 L633.5 2061.9 L636.8 2066.4 L639 2072.8 L639.8 2081.1 L640.1 2121.3 L915.2 2121.3 L915.2 2088.1" fill="none" stroke="#0000ff" stroke-width="4.0" stroke-linejoin="round" stroke-linecap="butt"/>
</g>
<line x1="160.4" y1="1791.5" x2="160.4" y2="1730" stroke="#4c4c4c" stroke-width="1.4"/>
<polygon points="160.4,1717.4 164.8,1733.2 156,1733.2" fill="#000"/>
<text x="129.6" y="1830.3" font-size="26.5" font-weight="bold" textLength="77.2" lengthAdjust="spacingAndGlyphs">1.9 eV</text>
<line x1="159.3" y1="1849" x2="159.3" y2="1873.9" stroke="#4c4c4c" stroke-width="1.4"/>
<polygon points="159.3,1886.5 154.9,1870.7 163.7,1870.7" fill="#000"/>
<line x1="373.6" y1="1811.6" x2="373.6" y2="1779" stroke="#4c4c4c" stroke-width="1.4"/>
<polygon points="373.6,1766.4 378,1782.2 369.2,1782.2" fill="#000"/>
<text x="337.6" y="1841.9" font-size="26.5" font-weight="bold" textLength="92.1" lengthAdjust="spacingAndGlyphs">1.52 eV</text>
<line x1="373.6" y1="1856.3" x2="373.6" y2="1884" stroke="#4c4c4c" stroke-width="1.4"/>
<polygon points="373.6,1896.6 369.2,1880.8 378,1880.8" fill="#000"/>
<line x1="183.5" y1="1900.9" x2="183.8" y2="2098.7" stroke="#5a5a5a" stroke-width="1.3"/>
<line x1="123.3" y1="1941.2" x2="123.3" y2="2086.9" stroke="#5a5a5a" stroke-width="1.3"/>
<line x1="202.5" y1="2008" x2="599.8" y2="2008" stroke="#4c4c4c" stroke-width="1.4"/>
<polygon points="613.7,2008 596.3,2012.4 596.3,2003.6" fill="#000"/>
<polygon points="188.6,2008 206,2003.6 206,2012.4" fill="#000"/>
<line x1="137.2" y1="2037.3" x2="164.7" y2="2037.3" stroke="#4c4c4c" stroke-width="1.4"/>
<polygon points="178.6,2037.3 161.2,2041.7 161.2,2032.9" fill="#000"/>
<polygon points="123.3,2037.3 140.7,2032.9 140.7,2041.7" fill="#000"/>
<text x="306.2" y="2057.5" font-size="36" font-weight="bold" textLength="125" lengthAdjust="spacingAndGlyphs">CsSnCl<tspan font-size="24.5" dy="9.4">3</tspan></text>
<text x="322" y="2101.3" font-size="22.5" font-weight="bold" textLength="94.8" lengthAdjust="spacingAndGlyphs">(0.8 μm)</text>
<line x1="180.6" y1="2153.4" x2="157.6" y2="2089.1" stroke="#4c4c4c" stroke-width="1.4"/>
<polygon points="153.2,2076.8 162.8,2090.7 154.6,2093.7" fill="#000"/>
<text x="155.5" y="2184.2" font-size="33" font-weight="bold" textLength="91.6" lengthAdjust="spacingAndGlyphs">CBTS</text>
<text x="154.1" y="2215.9" font-size="22.5" font-weight="bold" textLength="93" lengthAdjust="spacingAndGlyphs">(0.1 μm)</text>
<line x1="631.8" y1="1827.5" x2="631.8" y2="1807.8" stroke="#4c4c4c" stroke-width="1.4"/>
<polygon points="631.8,1795.2 636.2,1811 627.4,1811" fill="#000"/>
<text x="602.1" y="1865.5" font-size="26.5" font-weight="bold" textLength="92.8" lengthAdjust="spacingAndGlyphs">3.05 eV</text>
<line x1="633.8" y1="1881.6" x2="633.1" y2="2046.3" stroke="#4c4c4c" stroke-width="1.4"/>
<polygon points="633,2058.9 628.7,2043.1 637.5,2043.1" fill="#000"/>
<line x1="804.6" y1="1871.5" x2="804.6" y2="1819.9" stroke="#4c4c4c" stroke-width="1.4"/>
<polygon points="804.6,1807.3 809,1823.1 800.2,1823.1" fill="#000"/>
<text x="772.6" y="1927.7" font-size="27.5" font-weight="bold" textLength="77.8" lengthAdjust="spacingAndGlyphs">3.5 eV</text>
<line x1="806.6" y1="1967.1" x2="806.6" y2="2114" stroke="#4c4c4c" stroke-width="1.4"/>
<polygon points="806.6,2126.6 802.2,2110.8 811,2110.8" fill="#000"/>
<text x="655.4" y="1930.6" font-size="34" font-weight="bold" textLength="92.2" lengthAdjust="spacingAndGlyphs">IGZO</text>
<text x="651.1" y="1964.3" font-size="22.5" font-weight="bold" textLength="106.6" lengthAdjust="spacingAndGlyphs">(0.03 μm)</text>
<line x1="684.2" y1="1986.3" x2="636.3" y2="2092.4" stroke="#4c4c4c" stroke-width="1.4"/>
<polygon points="630.9,2104.4 633.7,2087.6 641.7,2091.2" fill="#000"/>
<line x1="614.5" y1="2104.1" x2="644.5" y2="2104.1" stroke="#4c4c4c" stroke-width="1.4"/>
<polygon points="616.5,2104.1 633,2099.8 633,2108.4" fill="#000"/>
<polygon points="642.5,2104.1 626,2108.4 626,2099.8" fill="#000"/>
<line x1="621.7" y1="2060" x2="621.7" y2="2128" stroke="#5a5a5a" stroke-width="1.3"/>
<line x1="637.3" y1="2128" x2="637.3" y2="2217.3" stroke="#5a5a5a" stroke-width="1.3"/>
<line x1="711" y1="2185.1" x2="654.9" y2="2185.1" stroke="#4c4c4c" stroke-width="1.4"/>
<polygon points="641,2185.1 658.4,2180.7 658.4,2189.5" fill="#000"/>
<line x1="805.2" y1="2185.1" x2="898.4" y2="2185.1" stroke="#4c4c4c" stroke-width="1.4"/>
<polygon points="912.3,2185.1 894.9,2189.5 894.9,2180.7" fill="#000"/>
<text x="722.5" y="2188" font-size="33.5" font-weight="bold" textLength="64.5" lengthAdjust="spacingAndGlyphs">ITO</text>
<text x="688.5" y="2230.3" font-size="22.5" font-weight="bold" textLength="92.8" lengthAdjust="spacingAndGlyphs">(0.5 μm)</text>
<line x1="126.3" y1="2030.3" x2="126.3" y2="2044.3" stroke="#000" stroke-width="4.2"/>
</g>
<g id="panel-f">
<clipPath id="c6"><rect x="1108.3" y="1650.6" width="789.3" height="595.6"/></clipPath>
<rect x="1109.3" y="1650.6" width="787.9" height="595.6" fill="none" stroke="#000" stroke-width="4.2"/>
<line x1="1096.8" y1="2246.2" x2="1109.3" y2="2246.2" stroke="#000" stroke-width="4.2"/>
<text x="1086.8" y="2256.9" font-size="36" font-weight="bold" text-anchor="end" textLength="33" lengthAdjust="spacingAndGlyphs">-4</text>
<line x1="1096.8" y1="2154.6" x2="1109.3" y2="2154.6" stroke="#000" stroke-width="4.2"/>
<text x="1086.8" y="2165.3" font-size="36" font-weight="bold" text-anchor="end" textLength="33" lengthAdjust="spacingAndGlyphs">-3</text>
<line x1="1096.8" y1="2062.9" x2="1109.3" y2="2062.9" stroke="#000" stroke-width="4.2"/>
<text x="1086.8" y="2073.6" font-size="36" font-weight="bold" text-anchor="end" textLength="33" lengthAdjust="spacingAndGlyphs">-2</text>
<line x1="1096.8" y1="1971.3" x2="1109.3" y2="1971.3" stroke="#000" stroke-width="4.2"/>
<text x="1086.8" y="1982" font-size="36" font-weight="bold" text-anchor="end" textLength="33" lengthAdjust="spacingAndGlyphs">-1</text>
<line x1="1096.8" y1="1879.7" x2="1109.3" y2="1879.7" stroke="#000" stroke-width="4.2"/>
<text x="1086.8" y="1890.4" font-size="36" font-weight="bold" text-anchor="end" textLength="19.8" lengthAdjust="spacingAndGlyphs">0</text>
<line x1="1096.8" y1="1788" x2="1109.3" y2="1788" stroke="#000" stroke-width="4.2"/>
<text x="1086.8" y="1798.7" font-size="36" font-weight="bold" text-anchor="end" textLength="19.8" lengthAdjust="spacingAndGlyphs">1</text>
<line x1="1096.8" y1="1696.4" x2="1109.3" y2="1696.4" stroke="#000" stroke-width="4.2"/>
<text x="1086.8" y="1707.1" font-size="36" font-weight="bold" text-anchor="end" textLength="19.8" lengthAdjust="spacingAndGlyphs">2</text>
<line x1="1102.8" y1="2200.4" x2="1109.3" y2="2200.4" stroke="#000" stroke-width="4.2"/>
<line x1="1102.8" y1="2108.8" x2="1109.3" y2="2108.8" stroke="#000" stroke-width="4.2"/>
<line x1="1102.8" y1="2017.1" x2="1109.3" y2="2017.1" stroke="#000" stroke-width="4.2"/>
<line x1="1102.8" y1="1925.5" x2="1109.3" y2="1925.5" stroke="#000" stroke-width="4.2"/>
<line x1="1102.8" y1="1833.9" x2="1109.3" y2="1833.9" stroke="#000" stroke-width="4.2"/>
<line x1="1102.8" y1="1742.2" x2="1109.3" y2="1742.2" stroke="#000" stroke-width="4.2"/>
<line x1="1102.8" y1="1650.6" x2="1109.3" y2="1650.6" stroke="#000" stroke-width="4.2"/>
<line x1="1109.3" y1="2246.2" x2="1109.3" y2="2257.7" stroke="#000" stroke-width="4.2"/>
<text x="1108.3" y="2295" font-size="36" font-weight="bold" text-anchor="middle" textLength="49.8" lengthAdjust="spacingAndGlyphs">0.0</text>
<line x1="1266.9" y1="2246.2" x2="1266.9" y2="2257.7" stroke="#000" stroke-width="4.2"/>
<text x="1265.9" y="2295" font-size="36" font-weight="bold" text-anchor="middle" textLength="49.8" lengthAdjust="spacingAndGlyphs">0.3</text>
<line x1="1424.5" y1="2246.2" x2="1424.5" y2="2257.7" stroke="#000" stroke-width="4.2"/>
<text x="1423.5" y="2295" font-size="36" font-weight="bold" text-anchor="middle" textLength="49.8" lengthAdjust="spacingAndGlyphs">0.6</text>
<line x1="1582.1" y1="2246.2" x2="1582.1" y2="2257.7" stroke="#000" stroke-width="4.2"/>
<text x="1581.1" y="2295" font-size="36" font-weight="bold" text-anchor="middle" textLength="49.8" lengthAdjust="spacingAndGlyphs">0.9</text>
<line x1="1739.7" y1="2246.2" x2="1739.7" y2="2257.7" stroke="#000" stroke-width="4.2"/>
<text x="1738.7" y="2295" font-size="36" font-weight="bold" text-anchor="middle" textLength="49.8" lengthAdjust="spacingAndGlyphs">1.2</text>
<line x1="1897.2" y1="2246.2" x2="1897.2" y2="2257.7" stroke="#000" stroke-width="4.2"/>
<text x="1896.2" y="2295" font-size="36" font-weight="bold" text-anchor="middle" textLength="49.8" lengthAdjust="spacingAndGlyphs">1.5</text>
<line x1="1188.1" y1="2246.2" x2="1188.1" y2="2252.2" stroke="#000" stroke-width="4.2"/>
<line x1="1345.7" y1="2246.2" x2="1345.7" y2="2252.2" stroke="#000" stroke-width="4.2"/>
<line x1="1503.3" y1="2246.2" x2="1503.3" y2="2252.2" stroke="#000" stroke-width="4.2"/>
<line x1="1660.9" y1="2246.2" x2="1660.9" y2="2252.2" stroke="#000" stroke-width="4.2"/>
<line x1="1818.5" y1="2246.2" x2="1818.5" y2="2252.2" stroke="#000" stroke-width="4.2"/>
<text x="1503.2" y="2348.6" font-size="37.5" font-weight="bold" text-anchor="middle" textLength="273" lengthAdjust="spacingAndGlyphs">Thickness (<tspan font-weight="normal">μ</tspan>m)</text>
<text transform="translate(1040.5 1948.4) scale(1.15 1) rotate(-90)" font-size="37.5" font-weight="bold" text-anchor="middle" textLength="201.5" lengthAdjust="spacingAndGlyphs">Energy (eV)</text>
<text x="989.3" y="1684.9" font-size="60">(f)</text>
<rect x="1220.2" y="1591.3" width="555.5" height="44.6" fill="#fff" stroke="#333" stroke-width="1.3"/>
<line x1="1220" y1="1610.3" x2="1301.2" y2="1610.3" stroke="#0000ff" stroke-width="4.0" stroke-linecap="round"/>
<line x1="1367.6" y1="1610.3" x2="1447.6" y2="1610.3" stroke="#e93232" stroke-width="4.0" stroke-linecap="round"/>
<line x1="1514" y1="1610.3" x2="1581.3" y2="1610.3" stroke="#000" stroke-width="4" stroke-linecap="round" stroke-dasharray="20.3 26.5"/>
<line x1="1652.2" y1="1610.3" x2="1721.2" y2="1610.3" stroke="#800080" stroke-width="4" stroke-linecap="round" stroke-dasharray="20.5 27.9"/>
<text x="1310" y="1621.8" font-size="35.5" textLength="20" lengthAdjust="spacingAndGlyphs">E</text>
<text x="1332.3" y="1630.2" font-size="23.5">V</text>
<text x="1457.5" y="1621.8" font-size="35.5" textLength="20" lengthAdjust="spacingAndGlyphs">E</text>
<text x="1478.4" y="1630.2" font-size="23.5">C</text>
<text x="1603.6" y="1621.8" font-size="35.5" textLength="18.2" lengthAdjust="spacingAndGlyphs">F</text>
<text x="1622" y="1630.2" font-size="23.5">n</text>
<text x="1743.2" y="1621.8" font-size="35.5" textLength="18.2" lengthAdjust="spacingAndGlyphs">F</text>
<text x="1762.2" y="1630.2" font-size="23.5">p</text>
<g clip-path="url(#c6)">
<path d="M1131.5 1769.9 L1149.1 1769.9" fill="none" stroke="#000" stroke-width="4.0" stroke-linejoin="round" stroke-linecap="round"/>
<path d="M1167.5 1786.5 L1897.2 1786.5" fill="none" stroke="#000" stroke-width="4.0" stroke-linejoin="round" stroke-linecap="round" stroke-dasharray="20.6 27.1" stroke-dashoffset="0"/>
<path d="M1109.3 1879.7 L1555.9 1879.7" fill="none" stroke="#800080" stroke-width="3.9" stroke-linejoin="round" stroke-linecap="round" stroke-dasharray="20.5 26.7" stroke-dashoffset="46.3"/>
<path d="M1581.9 1882.7 L1581.9 1896" fill="none" stroke="#800080" stroke-width="3.9" stroke-linejoin="round" stroke-linecap="round"/>
<path d="M1609.8 1904.6 L1628.8 1904.6" fill="none" stroke="#800080" stroke-width="3.9" stroke-linejoin="round" stroke-linecap="round"/>
<path d="M1635.3 1925.9 L1635.3 1943.5" fill="none" stroke="#800080" stroke-width="3.9" stroke-linejoin="round" stroke-linecap="round"/>
<path d="M1636.8 2061.1 L1640 2067.9 L1645.1 2070.3 L1650.2 2071.7 L1655.3 2072.5 L1660.5 2073.1 L1665.6 2073.5 L1670.7 2073.9 L1675.8 2074 L1680.9 2074 L1686.1 2074 L1691.2 2074 L1696.3 2074 L1701.4 2074 L1706.5 2074 L1711.7 2074 L1716.8 2074 L1721.9 2074 L1727 2074 L1732.1 2074 L1737.2 2074 L1742.4 2074 L1747.5 2074 L1752.6 2074 L1757.7 2074 L1762.8 2074 L1768 2074 L1773.1 2074 L1778.2 2074 L1783.3 2074 L1788.4 2074 L1793.6 2074 L1798.7 2074 L1803.8 2074 L1808.9 2074 L1814 2074 L1819.2 2074 L1824.3 2074 L1829.4 2074 L1834.5 2074 L1839.6 2074 L1844.8 2074 L1849.9 2074 L1855 2073.7 L1860.1 2073.4 L1865.2 2073.1 L1870.4 2072.6 L1875.5 2072 L1880.6 2071 L1885.7 2069.8" fill="none" stroke="#800080" stroke-width="3.9" stroke-linejoin="round" stroke-linecap="round" stroke-dasharray="18.6 28.5" stroke-dashoffset="0"/>
<path d="M1896.8 2032 L1896.8 2067.1" fill="none" stroke="#800080" stroke-width="3.9" stroke-linejoin="round" stroke-linecap="round"/>
<path d="M1109.3 1744.1 L1110.4 1733.1 L1111.9 1723.9 L1113.5 1717.9 L1115.1 1714.3 L1116.9 1712.6 L1118.2 1712.5 L1155.5 1712.5 L1157.6 1713.1 L1159.2 1714.7 L1160.5 1717 L1161.3 1720.2 L1161.6 1723.9 L1162 1746.9 L1164.8 1748.8 L1167.6 1749.9 L1170.4 1750.7 L1173.2 1751.4 L1176.1 1752 L1178.9 1752.5 L1181.7 1753 L1184.5 1753.4 L1187.3 1753.7 L1190.1 1754 L1192.9 1754.3 L1195.8 1754.6 L1198.6 1755 L1201.4 1755.2 L1204.2 1755.5 L1207 1755.8 L1209.8 1756.1 L1212.6 1756.3 L1215.5 1756.5 L1218.3 1756.7 L1221.1 1756.9 L1223.9 1757.1 L1226.7 1757.3 L1229.5 1757.4 L1232.3 1757.6 L1235.2 1757.7 L1238 1757.9 L1240.8 1758 L1243.6 1758.2 L1246.4 1758.3 L1249.2 1758.5 L1252 1758.6 L1254.9 1758.7 L1257.7 1758.9 L1260.5 1759 L1263.3 1759.1 L1266.1 1759.2 L1268.9 1759.4 L1271.7 1759.5 L1274.5 1759.6 L1277.4 1759.7 L1280.2 1759.8 L1283 1759.9 L1285.8 1760 L1288.6 1760.1 L1291.4 1760.2 L1294.2 1760.3 L1297.1 1760.4 L1299.9 1760.5 L1302.7 1760.5 L1305.5 1760.6 L1308.3 1760.7 L1311.1 1760.8 L1313.9 1760.9 L1316.8 1760.9 L1319.6 1761 L1322.4 1761.1 L1325.2 1761.1 L1328 1761.2 L1330.8 1761.3 L1333.6 1761.3 L1336.5 1761.4 L1339.3 1761.5 L1342.1 1761.6 L1344.9 1761.6 L1347.7 1761.7 L1350.5 1761.8 L1353.3 1761.8 L1356.2 1761.9 L1359 1762 L1361.8 1762 L1364.6 1762.1 L1367.4 1762.2 L1370.2 1762.2 L1373 1762.3 L1375.9 1762.3 L1378.7 1762.4 L1381.5 1762.5 L1384.3 1762.5 L1387.1 1762.6 L1389.9 1762.7 L1392.7 1762.7 L1395.6 1762.8 L1398.4 1762.9 L1401.2 1762.9 L1404 1763 L1406.8 1763 L1409.6 1763.1 L1412.4 1763.1 L1415.3 1763.2 L1418.1 1763.2 L1420.9 1763.3 L1423.7 1763.3 L1426.5 1763.4 L1429.3 1763.4 L1432.1 1763.5 L1435 1763.5 L1437.8 1763.6 L1440.6 1763.7 L1443.4 1763.7 L1446.2 1763.8 L1449 1763.9 L1451.8 1763.9 L1454.6 1764 L1457.5 1764.1 L1460.3 1764.2 L1463.1 1764.3 L1465.9 1764.4 L1468.7 1764.6 L1471.5 1764.8 L1474.3 1764.9 L1477.2 1765.1 L1480 1765.3 L1482.8 1765.6 L1485.6 1765.8 L1488.4 1766 L1491.2 1766.3 L1494 1766.5 L1496.9 1766.8 L1499.7 1767 L1502.5 1767.3 L1505.3 1767.5 L1508.1 1767.7 L1510.9 1767.9 L1513.7 1768.1 L1516.6 1768.4 L1519.4 1768.6 L1522.2 1768.8 L1525 1769 L1527.8 1769.2 L1530.6 1769.4 L1533.4 1769.7 L1536.3 1769.9 L1539.1 1770.2 L1541.9 1770.4 L1544.7 1770.7 L1547.5 1771 L1550.3 1771.3 L1553.1 1771.6 L1556 1772 L1558.8 1772.4 L1561.6 1772.8 L1564.4 1773.3 L1567.2 1773.9 L1570 1774.6 L1572.8 1775.4 L1575.7 1776.5 L1578.5 1777.8 L1581.3 1779.8 L1581.8 1782.5 L1583.9 1785.5 L1587.3 1785.9 L1626.7 1785.9 L1630.9 1786.7 L1633.5 1789 L1634.6 1792.6 L1634.6 1800.3 L1897.2 1800.3 L1897.2 1766.6 L1897.2 1811.9" fill="none" stroke="#e93232" stroke-width="4.1" stroke-linejoin="round" stroke-linecap="butt"/>
<path d="M1109.3 1918.2 L1110.4 1907.2 L1111.9 1898 L1113.5 1892 L1115.1 1888.4 L1116.9 1886.7 L1118.2 1886.3 L1155.5 1886.3 L1158.7 1887 L1160.8 1888.8 L1161.6 1895.3 L1162.4 1894.3 L1163.4 1887.9 L1164.8 1888.1 L1167.6 1889.2 L1170.4 1890 L1173.2 1890.7 L1176.1 1891.3 L1178.9 1891.8 L1181.7 1892.3 L1184.5 1892.6 L1187.3 1893 L1190.1 1893.3 L1192.9 1893.6 L1195.8 1893.9 L1198.6 1894.2 L1201.4 1894.5 L1204.2 1894.8 L1207 1895.1 L1209.8 1895.3 L1212.6 1895.6 L1215.5 1895.8 L1218.3 1896 L1221.1 1896.2 L1223.9 1896.4 L1226.7 1896.5 L1229.5 1896.7 L1232.3 1896.9 L1235.2 1897 L1238 1897.2 L1240.8 1897.3 L1243.6 1897.5 L1246.4 1897.6 L1249.2 1897.7 L1252 1897.9 L1254.9 1898 L1257.7 1898.1 L1260.5 1898.3 L1263.3 1898.4 L1266.1 1898.5 L1268.9 1898.6 L1271.7 1898.8 L1274.5 1898.9 L1277.4 1899 L1280.2 1899.1 L1283 1899.2 L1285.8 1899.3 L1288.6 1899.4 L1291.4 1899.5 L1294.2 1899.6 L1297.1 1899.7 L1299.9 1899.7 L1302.7 1899.8 L1305.5 1899.9 L1308.3 1900 L1311.1 1900.1 L1313.9 1900.1 L1316.8 1900.2 L1319.6 1900.3 L1322.4 1900.3 L1325.2 1900.4 L1328 1900.5 L1330.8 1900.6 L1333.6 1900.6 L1336.5 1900.7 L1339.3 1900.8 L1342.1 1900.8 L1344.9 1900.9 L1347.7 1901 L1350.5 1901 L1353.3 1901.1 L1356.2 1901.2 L1359 1901.2 L1361.8 1901.3 L1364.6 1901.4 L1367.4 1901.4 L1370.2 1901.5 L1373 1901.6 L1375.9 1901.6 L1378.7 1901.7 L1381.5 1901.7 L1384.3 1901.8 L1387.1 1901.9 L1389.9 1901.9 L1392.7 1902 L1395.6 1902.1 L1398.4 1902.1 L1401.2 1902.2 L1404 1902.3 L1406.8 1902.3 L1409.6 1902.4 L1412.4 1902.4 L1415.3 1902.5 L1418.1 1902.5 L1420.9 1902.6 L1423.7 1902.6 L1426.5 1902.7 L1429.3 1902.7 L1432.1 1902.8 L1435 1902.8 L1437.8 1902.9 L1440.6 1902.9 L1443.4 1903 L1446.2 1903.1 L1449 1903.1 L1451.8 1903.2 L1454.6 1903.3 L1457.5 1903.4 L1460.3 1903.5 L1463.1 1903.6 L1465.9 1903.7 L1468.7 1903.9 L1471.5 1904 L1474.3 1904.2 L1477.2 1904.4 L1480 1904.6 L1482.8 1904.8 L1485.6 1905.1 L1488.4 1905.3 L1491.2 1905.6 L1494 1905.8 L1496.9 1906 L1499.7 1906.3 L1502.5 1906.5 L1505.3 1906.8 L1508.1 1907 L1510.9 1907.2 L1513.7 1907.4 L1516.6 1907.6 L1519.4 1907.9 L1522.2 1908.1 L1525 1908.3 L1527.8 1908.5 L1530.6 1908.7 L1533.4 1908.9 L1536.3 1909.2 L1539.1 1909.4 L1541.9 1909.7 L1544.7 1910 L1547.5 1910.3 L1550.3 1910.6 L1553.1 1910.9 L1556 1911.3 L1558.8 1911.7 L1561.6 1912.1 L1564.4 1912.6 L1567.2 1913.2 L1570 1913.8 L1572.8 1914.7 L1575.7 1915.8 L1578.5 1917.1 L1581.3 1919.1 L1582.1 1920 L1582.5 1948.4 L1585.2 1950.4 L1626.7 1950.7 L1630.9 1951.6 L1633.5 1954.8 L1634.6 1962.1 L1634.9 2121.8 L1897.2 2121.8 L1897.2 2087 L1897.2 2132.4" fill="none" stroke="#0000ff" stroke-width="4.0" stroke-linejoin="round" stroke-linecap="butt"/>
</g>
<line x1="1144.8" y1="1803" x2="1144.8" y2="1729.2" stroke="#4c4c4c" stroke-width="1.4"/>
<polygon points="1144.8,1716.6 1149.2,1732.4 1140.4,1732.4" fill="#000"/>
<text x="1113.7" y="1836.7" font-size="26.5" font-weight="bold" textLength="77.7" lengthAdjust="spacingAndGlyphs">1.9 eV</text>
<line x1="1143.3" y1="1851.9" x2="1143.3" y2="1873.9" stroke="#4c4c4c" stroke-width="1.4"/>
<polygon points="1143.3,1886.5 1138.9,1870.7 1147.7,1870.7" fill="#000"/>
<line x1="1323.3" y1="1807.3" x2="1323.3" y2="1778.1" stroke="#4c4c4c" stroke-width="1.4"/>
<polygon points="1323.3,1765.5 1327.7,1781.3 1318.9,1781.3" fill="#000"/>
<text x="1292.8" y="1832.4" font-size="26.5" font-weight="bold" textLength="92.2" lengthAdjust="spacingAndGlyphs">1.52 eV</text>
<line x1="1326.2" y1="1843.3" x2="1326.2" y2="1886.3" stroke="#4c4c4c" stroke-width="1.4"/>
<polygon points="1326.2,1898.9 1321.8,1883.1 1330.6,1883.1" fill="#000"/>
<line x1="1162.6" y1="1906.7" x2="1162.6" y2="2105" stroke="#5a5a5a" stroke-width="1.3"/>
<text x="1303.2" y="2007.1" font-size="36" font-weight="bold" textLength="125.8" lengthAdjust="spacingAndGlyphs">CsSnCl<tspan font-size="24.5" dy="9.4">3</tspan></text>
<text x="1312.4" y="2047.4" font-size="22.5" font-weight="bold" textLength="93" lengthAdjust="spacingAndGlyphs">(0.8 μm)</text>
<line x1="1120.4" y1="2042.5" x2="1153" y2="2042.5" stroke="#4c4c4c" stroke-width="1.4"/>
<polygon points="1166.9,2042.5 1149.5,2046.9 1149.5,2038.1" fill="#000"/>
<polygon points="1106.5,2042.5 1123.9,2038.1 1123.9,2046.9" fill="#000"/>
<line x1="1184.3" y1="2078.5" x2="1555.6" y2="2078.5" stroke="#4c4c4c" stroke-width="1.4"/>
<polygon points="1569.5,2078.5 1552.1,2082.9 1552.1,2074.1" fill="#000"/>
<polygon points="1170.4,2078.5 1187.8,2074.1 1187.8,2082.9" fill="#000"/>
<line x1="1156.3" y1="2146.8" x2="1130.8" y2="2070.7" stroke="#4c4c4c" stroke-width="1.4"/>
<polygon points="1126.6,2058.3 1136,2072.4 1127.6,2075.2" fill="#000"/>
<text x="1118.8" y="2175.6" font-size="33" font-weight="bold" textLength="91.3" lengthAdjust="spacingAndGlyphs">CBTS</text>
<text x="1126.6" y="2206.7" font-size="22.5" font-weight="bold" textLength="93.6" lengthAdjust="spacingAndGlyphs">(0.1 μm)</text>
<line x1="1595.7" y1="1833.2" x2="1595.7" y2="1806.9" stroke="#4c4c4c" stroke-width="1.4"/>
<polygon points="1595.7,1794.3 1600.1,1810.1 1591.3,1810.1" fill="#000"/>
<text x="1561.7" y="1859.7" font-size="26.5" font-weight="bold" textLength="77.8" lengthAdjust="spacingAndGlyphs">1.8 eV</text>
<line x1="1594" y1="1879.3" x2="1594" y2="1935.2" stroke="#4c4c4c" stroke-width="1.4"/>
<polygon points="1594,1947.8 1589.6,1932 1598.4,1932" fill="#000"/>
<line x1="1764.7" y1="1854.8" x2="1764.7" y2="1817" stroke="#4c4c4c" stroke-width="1.4"/>
<polygon points="1764.7,1804.4 1769.1,1820.2 1760.3,1820.2" fill="#000"/>
<text x="1725.9" y="1892.8" font-size="27.5" font-weight="bold" textLength="78.6" lengthAdjust="spacingAndGlyphs">3.5 eV</text>
<line x1="1765.3" y1="1926.8" x2="1765.6" y2="2106.8" stroke="#4c4c4c" stroke-width="1.4"/>
<polygon points="1765.6,2119.4 1761.2,2103.6 1770,2103.6" fill="#000"/>
<line x1="1579" y1="1954.2" x2="1579" y2="2115.7" stroke="#5a5a5a" stroke-width="1.3"/>
<line x1="1591.4" y1="2089.7" x2="1620.7" y2="2089.7" stroke="#4c4c4c" stroke-width="1.4"/>
<polygon points="1634.6,2089.7 1617.2,2094.1 1617.2,2085.3" fill="#000"/>
<polygon points="1577.5,2089.7 1594.9,2085.3 1594.9,2094.1" fill="#000"/>
<line x1="1551" y1="2176.4" x2="1586.1" y2="2122.8" stroke="#4c4c4c" stroke-width="1.4"/>
<polygon points="1593.4,2111.6 1588,2128 1580.6,2123.1" fill="#000"/>
<text x="1472.4" y="2191.4" font-size="33" font-weight="bold" textLength="64.2" lengthAdjust="spacingAndGlyphs">WS<tspan font-size="22.4" dy="8.6">2</tspan></text>
<text x="1455.1" y="2224.5" font-size="22.5" font-weight="bold" textLength="93.6" lengthAdjust="spacingAndGlyphs">(0.1 μm)</text>
<line x1="1634.6" y1="2128.9" x2="1634.6" y2="2217.3" stroke="#5a5a5a" stroke-width="1.3"/>
<line x1="1726.7" y1="2182.2" x2="1656.2" y2="2183.2" stroke="#4c4c4c" stroke-width="1.4"/>
<polygon points="1642.3,2183.4 1659.6,2178.8 1659.8,2187.6" fill="#000"/>
<line x1="1783.5" y1="2181.3" x2="1881.3" y2="2181.3" stroke="#4c4c4c" stroke-width="1.4"/>
<polygon points="1895.2,2181.3 1877.8,2185.7 1877.8,2176.9" fill="#000"/>
<text x="1731.6" y="2167.8" font-size="33.5" font-weight="bold" textLength="64.2" lengthAdjust="spacingAndGlyphs">ITO</text>
<text x="1715.8" y="2216.8" font-size="22.5" font-weight="bold" textLength="93.6" lengthAdjust="spacingAndGlyphs">(0.5 μm)</text>
<line x1="1109.3" y1="2035.5" x2="1109.3" y2="2049.5" stroke="#000" stroke-width="4.2"/>
</g>
</svg>
</body>
</html>
